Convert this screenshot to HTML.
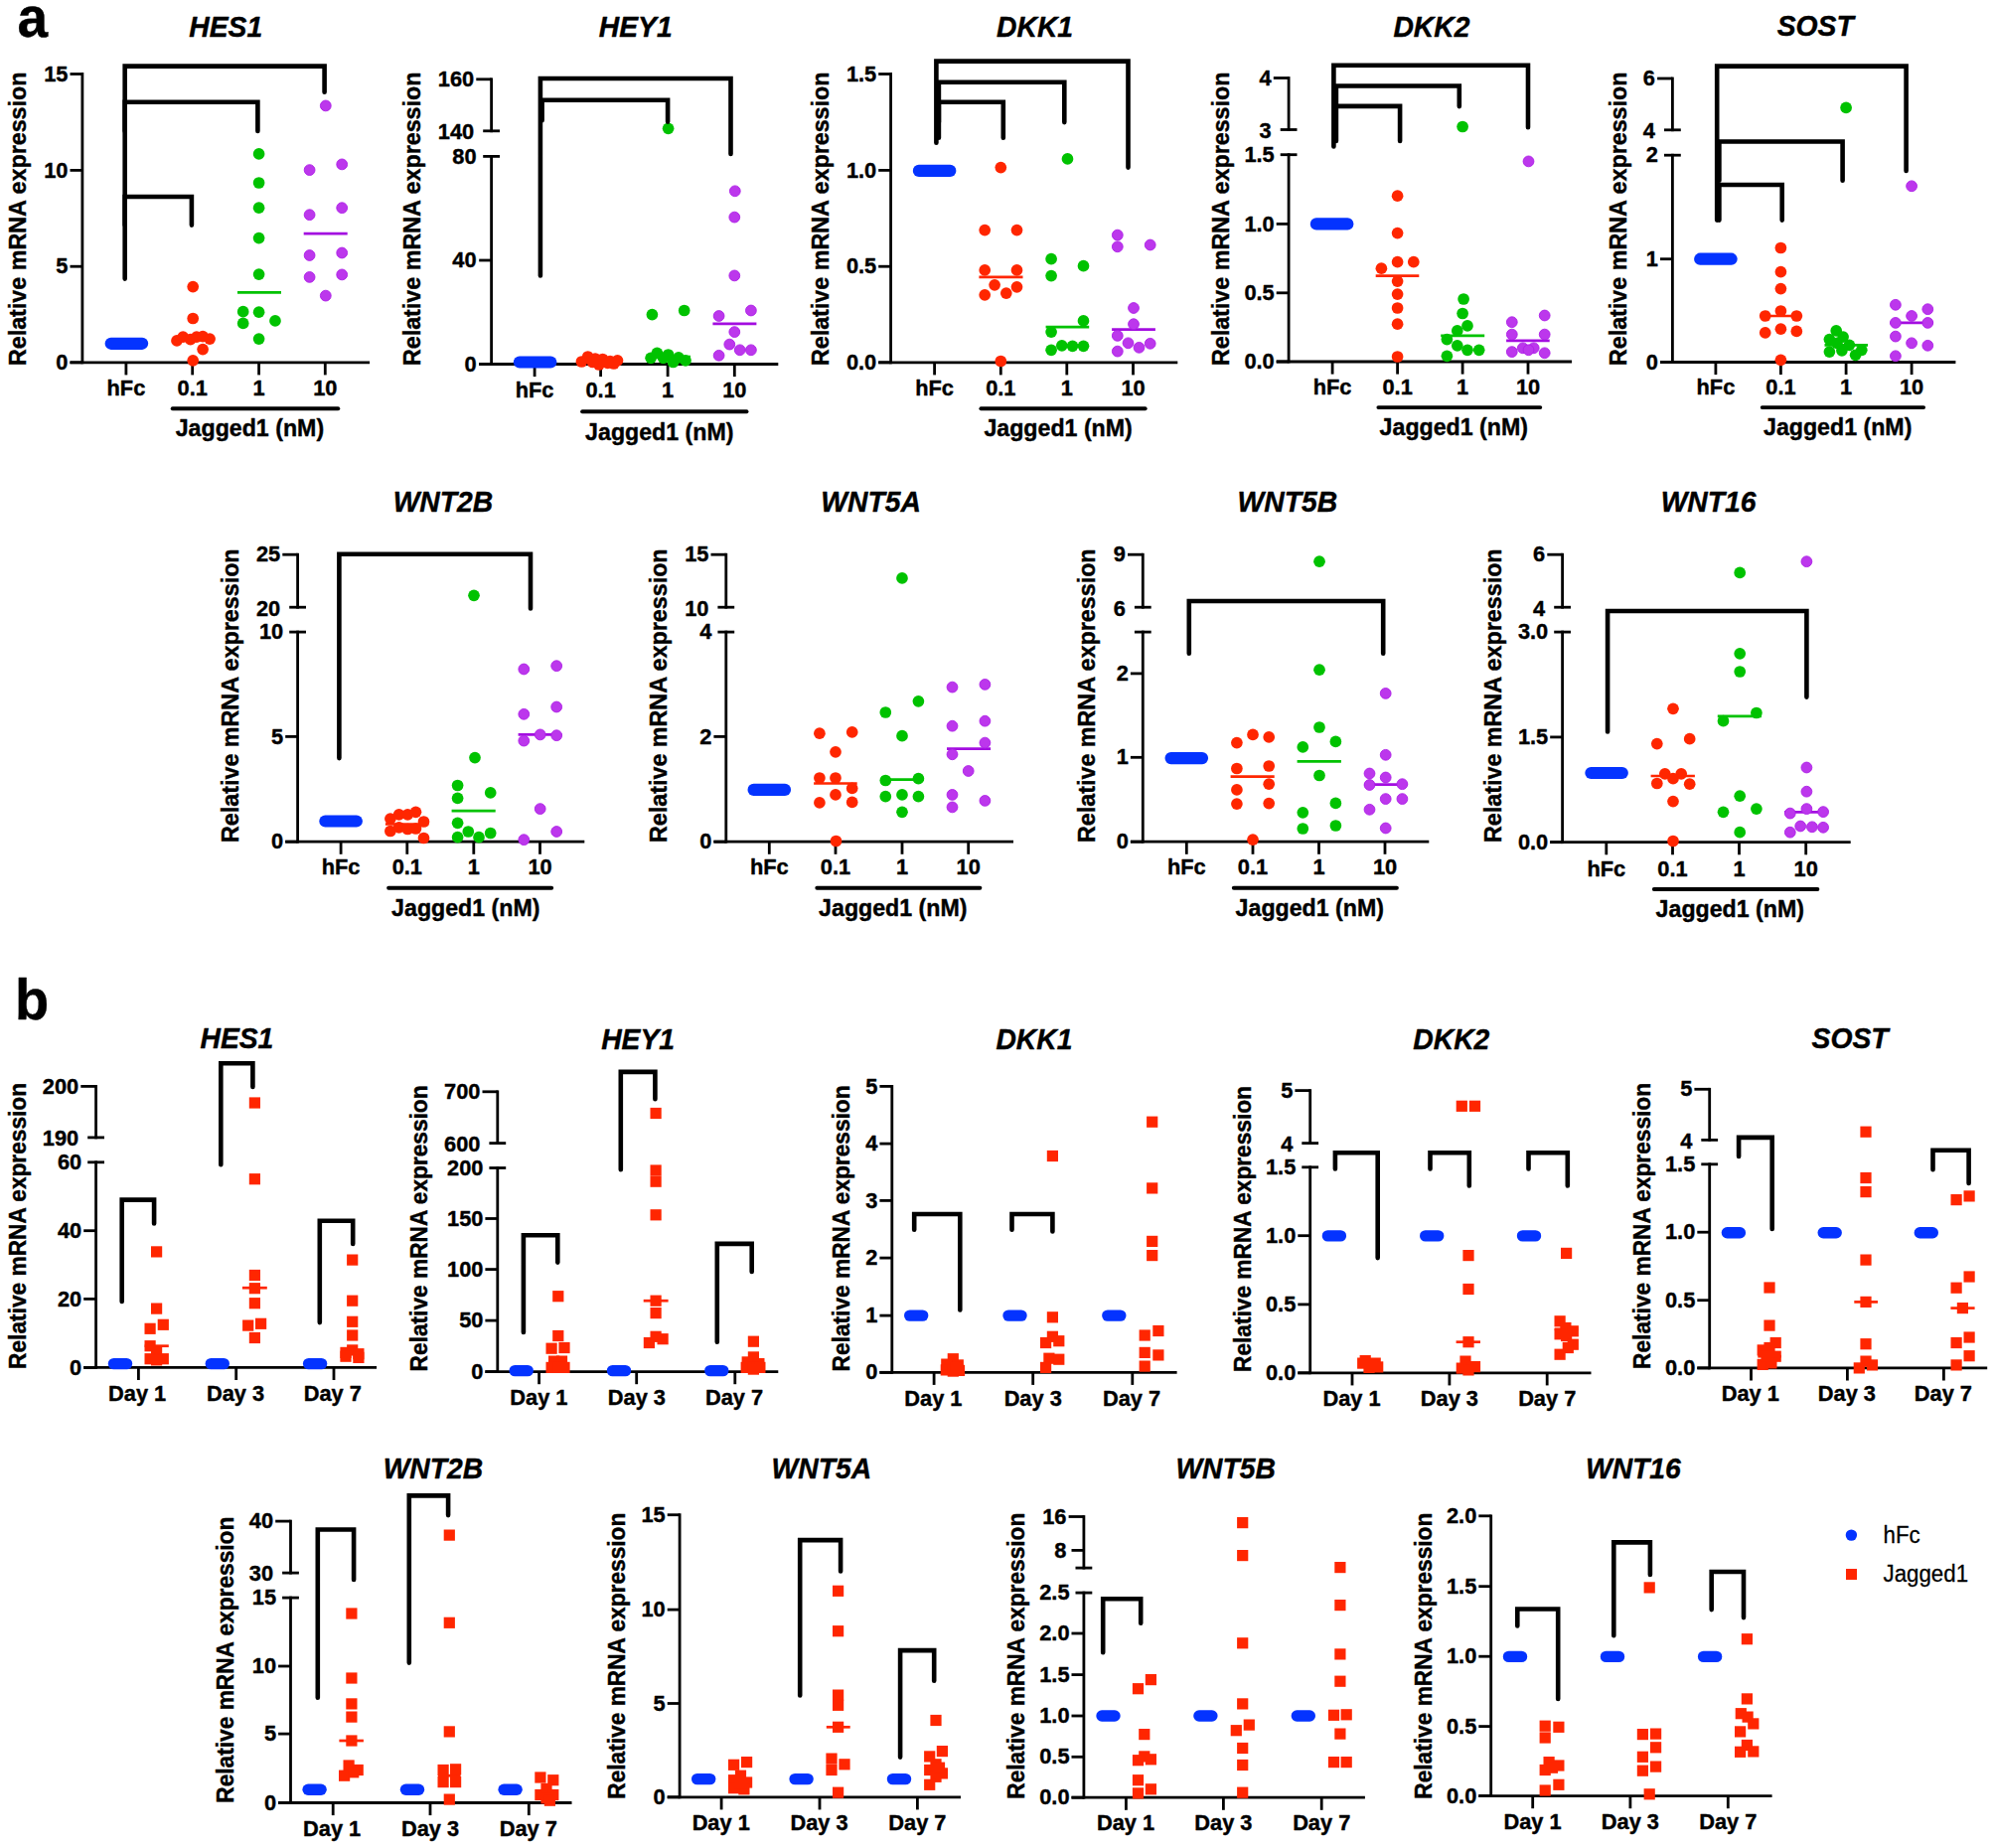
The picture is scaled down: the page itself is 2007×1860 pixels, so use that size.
<!DOCTYPE html>
<html><head><meta charset="utf-8"><title>Figure</title>
<style>html,body{margin:0;padding:0;background:#fff}svg{display:block}
text{font-family:"Liberation Sans",sans-serif;fill:#000;stroke:#000;stroke-width:0.4px;stroke-linejoin:round}text.r{stroke-width:0.25px}</style></head>
<body><svg width="2007" height="1860" viewBox="0 0 2007 1860">
<rect width="2007" height="1860" fill="#fff"/>
<text transform="translate(227.2,37.3) scale(1,1.035)" font-size="28.3" text-anchor="middle" font-weight="bold" font-style="italic">HES1</text>
<line x1="82.9" y1="73.1" x2="82.9" y2="366.2" stroke="#000" stroke-width="2.8" stroke-linecap="butt"/>
<line x1="70.5" y1="74.5" x2="82.9" y2="74.5" stroke="#000" stroke-width="2.8" stroke-linecap="butt"/>
<text transform="translate(68.5,81.6) scale(1,1.035)" font-size="21.8" text-anchor="end" font-weight="bold" font-style="normal">15</text>
<line x1="70.5" y1="171.4" x2="82.9" y2="171.4" stroke="#000" stroke-width="2.8" stroke-linecap="butt"/>
<text transform="translate(68.5,178.5) scale(1,1.035)" font-size="21.8" text-anchor="end" font-weight="bold" font-style="normal">10</text>
<line x1="70.5" y1="268.2" x2="82.9" y2="268.2" stroke="#000" stroke-width="2.8" stroke-linecap="butt"/>
<text transform="translate(68.5,275.3) scale(1,1.035)" font-size="21.8" text-anchor="end" font-weight="bold" font-style="normal">5</text>
<line x1="70.5" y1="364.8" x2="82.9" y2="364.8" stroke="#000" stroke-width="2.8" stroke-linecap="butt"/>
<text transform="translate(68.5,371.9) scale(1,1.035)" font-size="21.8" text-anchor="end" font-weight="bold" font-style="normal">0</text>
<line x1="70.5" y1="364.8" x2="372.1" y2="364.8" stroke="#000" stroke-width="2.8" stroke-linecap="butt"/>
<line x1="126.9" y1="364.8" x2="126.9" y2="377.4" stroke="#000" stroke-width="2.8" stroke-linecap="butt"/>
<line x1="193.7" y1="364.8" x2="193.7" y2="377.4" stroke="#000" stroke-width="2.8" stroke-linecap="butt"/>
<line x1="260.6" y1="364.8" x2="260.6" y2="377.4" stroke="#000" stroke-width="2.8" stroke-linecap="butt"/>
<line x1="327.3" y1="364.8" x2="327.3" y2="377.4" stroke="#000" stroke-width="2.8" stroke-linecap="butt"/>
<text transform="translate(126.9,397.9) scale(1,1.035)" font-size="21.8" text-anchor="middle" font-weight="bold" font-style="normal">hFc</text>
<text transform="translate(193.7,397.9) scale(1,1.035)" font-size="21.8" text-anchor="middle" font-weight="bold" font-style="normal">0.1</text>
<text transform="translate(260.6,397.9) scale(1,1.035)" font-size="21.8" text-anchor="middle" font-weight="bold" font-style="normal">1</text>
<text transform="translate(327.3,397.9) scale(1,1.035)" font-size="21.8" text-anchor="middle" font-weight="bold" font-style="normal">10</text>
<line x1="173.7" y1="411.3" x2="340.3" y2="411.3" stroke="#000" stroke-width="3.9" stroke-linecap="round"/>
<text transform="translate(251.4,438.9) scale(1,1.035)" font-size="23.2" text-anchor="middle" font-weight="bold" font-style="normal">Jagged1 (nM)</text>
<text transform="translate(26.1,220.3) rotate(-90) scale(1,1.035)" font-size="23.3" text-anchor="middle" font-weight="bold">Relative mRNA expression</text>
<line x1="239" y1="294.3" x2="283" y2="294.3" stroke="#00c200" stroke-width="2.7" stroke-linecap="butt"/>
<line x1="305.7" y1="235.1" x2="349.7" y2="235.1" stroke="#a30de0" stroke-width="2.7" stroke-linecap="butt"/>
<line x1="111.7" y1="345.8" x2="143.1" y2="345.8" stroke="#0433ff" stroke-width="12.2" stroke-linecap="round"/>
<circle cx="194.2" cy="288.6" r="5.85" fill="#ff2600"/>
<circle cx="194.2" cy="320.5" r="5.85" fill="#ff2600"/>
<circle cx="178" cy="342.9" r="5.85" fill="#ff2600"/>
<circle cx="184.2" cy="339.1" r="5.85" fill="#ff2600"/>
<circle cx="191.7" cy="341.6" r="5.85" fill="#ff2600"/>
<circle cx="197.9" cy="339.1" r="5.85" fill="#ff2600"/>
<circle cx="204.1" cy="338.6" r="5.85" fill="#ff2600"/>
<circle cx="211.1" cy="341.1" r="5.85" fill="#ff2600"/>
<circle cx="204.1" cy="351.6" r="5.85" fill="#ff2600"/>
<circle cx="194.2" cy="362.8" r="5.85" fill="#ff2600"/>
<circle cx="260.6" cy="154.9" r="5.85" fill="#00c200"/>
<circle cx="260.6" cy="184" r="5.85" fill="#00c200"/>
<circle cx="260.6" cy="209.2" r="5.85" fill="#00c200"/>
<circle cx="260.6" cy="239.6" r="5.85" fill="#00c200"/>
<circle cx="260.6" cy="276.1" r="5.85" fill="#00c200"/>
<circle cx="244.7" cy="313.7" r="5.85" fill="#00c200"/>
<circle cx="260.6" cy="314.2" r="5.85" fill="#00c200"/>
<circle cx="277" cy="322.9" r="5.85" fill="#00c200"/>
<circle cx="244.7" cy="325.4" r="5.85" fill="#00c200"/>
<circle cx="260.6" cy="341.1" r="5.85" fill="#00c200"/>
<circle cx="327.8" cy="106.4" r="5.4" fill="#bc37ec" stroke="#ad1fe6" stroke-width="0.9"/>
<circle cx="344.2" cy="165.4" r="5.4" fill="#bc37ec" stroke="#ad1fe6" stroke-width="0.9"/>
<circle cx="311.6" cy="171.1" r="5.4" fill="#bc37ec" stroke="#ad1fe6" stroke-width="0.9"/>
<circle cx="344.2" cy="209.2" r="5.4" fill="#bc37ec" stroke="#ad1fe6" stroke-width="0.9"/>
<circle cx="311.6" cy="216.2" r="5.4" fill="#bc37ec" stroke="#ad1fe6" stroke-width="0.9"/>
<circle cx="344.2" cy="254.5" r="5.4" fill="#bc37ec" stroke="#ad1fe6" stroke-width="0.9"/>
<circle cx="311.6" cy="257" r="5.4" fill="#bc37ec" stroke="#ad1fe6" stroke-width="0.9"/>
<circle cx="344.2" cy="276.4" r="5.4" fill="#bc37ec" stroke="#ad1fe6" stroke-width="0.9"/>
<circle cx="311.6" cy="278.9" r="5.4" fill="#bc37ec" stroke="#ad1fe6" stroke-width="0.9"/>
<circle cx="327.8" cy="297.6" r="5.4" fill="#bc37ec" stroke="#ad1fe6" stroke-width="0.9"/>
<path d="M125.7 280.6 L125.7 66.6 L326.6 66.6 L326.6 92.7" fill="none" stroke="#000" stroke-width="4.6" stroke-linejoin="miter" stroke-linecap="round"/>
<path d="M125.7 132 L125.7 102.7 L259.4 102.7 L259.4 132" fill="none" stroke="#000" stroke-width="4.6" stroke-linejoin="miter" stroke-linecap="round"/>
<path d="M125.7 226.6 L125.7 198 L192.9 198 L192.9 226.6" fill="none" stroke="#000" stroke-width="4.6" stroke-linejoin="miter" stroke-linecap="round"/>
<text transform="translate(639.7,37.3) scale(1,1.035)" font-size="28.3" text-anchor="middle" font-weight="bold" font-style="italic">HEY1</text>
<line x1="494.6" y1="78.4" x2="494.6" y2="133.2" stroke="#000" stroke-width="2.8" stroke-linecap="butt"/>
<line x1="494.6" y1="156" x2="494.6" y2="367.9" stroke="#000" stroke-width="2.8" stroke-linecap="butt"/>
<line x1="479.3" y1="79.8" x2="494.6" y2="79.8" stroke="#000" stroke-width="2.8" stroke-linecap="butt"/>
<text transform="translate(477.2,86.9) scale(1,1.035)" font-size="21.8" text-anchor="end" font-weight="bold" font-style="normal">160</text>
<line x1="486.2" y1="131.8" x2="503" y2="131.8" stroke="#000" stroke-width="2.8" stroke-linecap="butt"/>
<text transform="translate(477.2,140.1) scale(1,1.035)" font-size="21.8" text-anchor="end" font-weight="bold" font-style="normal">140</text>
<line x1="486.2" y1="157.4" x2="503" y2="157.4" stroke="#000" stroke-width="2.8" stroke-linecap="butt"/>
<text transform="translate(479.6,164.5) scale(1,1.035)" font-size="21.8" text-anchor="end" font-weight="bold" font-style="normal">80</text>
<line x1="482.2" y1="262" x2="494.6" y2="262" stroke="#000" stroke-width="2.8" stroke-linecap="butt"/>
<text transform="translate(479.6,269.1) scale(1,1.035)" font-size="21.8" text-anchor="end" font-weight="bold" font-style="normal">40</text>
<line x1="482.2" y1="366.5" x2="494.6" y2="366.5" stroke="#000" stroke-width="2.8" stroke-linecap="butt"/>
<text transform="translate(479.6,373.6) scale(1,1.035)" font-size="21.8" text-anchor="end" font-weight="bold" font-style="normal">0</text>
<line x1="482.2" y1="366.5" x2="783.3" y2="366.5" stroke="#000" stroke-width="2.8" stroke-linecap="butt"/>
<line x1="538.1" y1="366.5" x2="538.1" y2="379.1" stroke="#000" stroke-width="2.8" stroke-linecap="butt"/>
<line x1="604.6" y1="366.5" x2="604.6" y2="379.1" stroke="#000" stroke-width="2.8" stroke-linecap="butt"/>
<line x1="672.1" y1="366.5" x2="672.1" y2="379.1" stroke="#000" stroke-width="2.8" stroke-linecap="butt"/>
<line x1="739.3" y1="366.5" x2="739.3" y2="379.1" stroke="#000" stroke-width="2.8" stroke-linecap="butt"/>
<text transform="translate(538.1,400.4) scale(1,1.035)" font-size="21.8" text-anchor="middle" font-weight="bold" font-style="normal">hFc</text>
<text transform="translate(604.6,400.4) scale(1,1.035)" font-size="21.8" text-anchor="middle" font-weight="bold" font-style="normal">0.1</text>
<text transform="translate(672.1,400.4) scale(1,1.035)" font-size="21.8" text-anchor="middle" font-weight="bold" font-style="normal">1</text>
<text transform="translate(739.3,400.4) scale(1,1.035)" font-size="21.8" text-anchor="middle" font-weight="bold" font-style="normal">10</text>
<line x1="586.1" y1="414.3" x2="751.5" y2="414.3" stroke="#000" stroke-width="3.9" stroke-linecap="round"/>
<text transform="translate(663.8,442.7) scale(1,1.035)" font-size="23.2" text-anchor="middle" font-weight="bold" font-style="normal">Jagged1 (nM)</text>
<text transform="translate(422.8,220.3) rotate(-90) scale(1,1.035)" font-size="23.3" text-anchor="middle" font-weight="bold">Relative mRNA expression</text>
<line x1="650.2" y1="359" x2="695" y2="359" stroke="#00c200" stroke-width="2.7" stroke-linecap="butt"/>
<line x1="717.4" y1="325.9" x2="761.4" y2="325.9" stroke="#a30de0" stroke-width="2.7" stroke-linecap="butt"/>
<line x1="522.9" y1="364.5" x2="554.3" y2="364.5" stroke="#0433ff" stroke-width="12.2" stroke-linecap="round"/>
<circle cx="591.7" cy="359" r="5.85" fill="#ff2600"/>
<circle cx="585.4" cy="364" r="5.85" fill="#ff2600"/>
<circle cx="599.1" cy="361" r="5.85" fill="#ff2600"/>
<circle cx="606.6" cy="361.5" r="5.85" fill="#ff2600"/>
<circle cx="614.1" cy="363.5" r="5.85" fill="#ff2600"/>
<circle cx="621.5" cy="362.8" r="5.85" fill="#ff2600"/>
<circle cx="602.9" cy="367" r="5.85" fill="#ff2600"/>
<circle cx="617.8" cy="366" r="5.85" fill="#ff2600"/>
<circle cx="596.6" cy="364.5" r="5.85" fill="#ff2600"/>
<circle cx="611.6" cy="365.3" r="5.85" fill="#ff2600"/>
<circle cx="672.6" cy="129.3" r="5.85" fill="#00c200"/>
<circle cx="656.4" cy="316.7" r="5.85" fill="#00c200"/>
<circle cx="688.7" cy="312.5" r="5.85" fill="#00c200"/>
<circle cx="661.4" cy="355.3" r="5.85" fill="#00c200"/>
<circle cx="672.6" cy="357" r="5.85" fill="#00c200"/>
<circle cx="683" cy="359.8" r="5.85" fill="#00c200"/>
<circle cx="655.1" cy="360.3" r="5.85" fill="#00c200"/>
<circle cx="690" cy="362.8" r="5.85" fill="#00c200"/>
<circle cx="667.6" cy="360.3" r="5.85" fill="#00c200"/>
<circle cx="677.5" cy="364.5" r="5.85" fill="#00c200"/>
<circle cx="739.8" cy="192.3" r="5.4" fill="#bc37ec" stroke="#ad1fe6" stroke-width="0.9"/>
<circle cx="739.3" cy="218.6" r="5.4" fill="#bc37ec" stroke="#ad1fe6" stroke-width="0.9"/>
<circle cx="739.3" cy="277.4" r="5.4" fill="#bc37ec" stroke="#ad1fe6" stroke-width="0.9"/>
<circle cx="755.9" cy="312.5" r="5.4" fill="#bc37ec" stroke="#ad1fe6" stroke-width="0.9"/>
<circle cx="723.6" cy="318" r="5.4" fill="#bc37ec" stroke="#ad1fe6" stroke-width="0.9"/>
<circle cx="739.3" cy="334.1" r="5.4" fill="#bc37ec" stroke="#ad1fe6" stroke-width="0.9"/>
<circle cx="734.3" cy="346.6" r="5.4" fill="#bc37ec" stroke="#ad1fe6" stroke-width="0.9"/>
<circle cx="744.7" cy="352.3" r="5.4" fill="#bc37ec" stroke="#ad1fe6" stroke-width="0.9"/>
<circle cx="755.9" cy="352.3" r="5.4" fill="#bc37ec" stroke="#ad1fe6" stroke-width="0.9"/>
<circle cx="723.6" cy="357.8" r="5.4" fill="#bc37ec" stroke="#ad1fe6" stroke-width="0.9"/>
<path d="M543.9 277.4 L543.9 79 L735.5 79 L735.5 154.9" fill="none" stroke="#000" stroke-width="4.6" stroke-linejoin="miter" stroke-linecap="round"/>
<path d="M545.6 121.3 L545.6 100.7 L672.1 100.7 L672.1 122.6" fill="none" stroke="#000" stroke-width="4.6" stroke-linejoin="miter" stroke-linecap="round"/>
<text transform="translate(1041.6,37.3) scale(1,1.035)" font-size="28.3" text-anchor="middle" font-weight="bold" font-style="italic">DKK1</text>
<line x1="896.6" y1="73.1" x2="896.6" y2="366.2" stroke="#000" stroke-width="2.8" stroke-linecap="butt"/>
<line x1="884.2" y1="74.5" x2="896.6" y2="74.5" stroke="#000" stroke-width="2.8" stroke-linecap="butt"/>
<text transform="translate(882.2,81.6) scale(1,1.035)" font-size="21.8" text-anchor="end" font-weight="bold" font-style="normal">1.5</text>
<line x1="884.2" y1="171.4" x2="896.6" y2="171.4" stroke="#000" stroke-width="2.8" stroke-linecap="butt"/>
<text transform="translate(882.2,178.5) scale(1,1.035)" font-size="21.8" text-anchor="end" font-weight="bold" font-style="normal">1.0</text>
<line x1="884.2" y1="268.2" x2="896.6" y2="268.2" stroke="#000" stroke-width="2.8" stroke-linecap="butt"/>
<text transform="translate(882.2,275.3) scale(1,1.035)" font-size="21.8" text-anchor="end" font-weight="bold" font-style="normal">0.5</text>
<line x1="884.2" y1="364.8" x2="896.6" y2="364.8" stroke="#000" stroke-width="2.8" stroke-linecap="butt"/>
<text transform="translate(882.2,371.9) scale(1,1.035)" font-size="21.8" text-anchor="end" font-weight="bold" font-style="normal">0.0</text>
<line x1="884.2" y1="364.8" x2="1185.3" y2="364.8" stroke="#000" stroke-width="2.8" stroke-linecap="butt"/>
<line x1="940.6" y1="364.8" x2="940.6" y2="377.4" stroke="#000" stroke-width="2.8" stroke-linecap="butt"/>
<line x1="1007.3" y1="364.8" x2="1007.3" y2="377.4" stroke="#000" stroke-width="2.8" stroke-linecap="butt"/>
<line x1="1073.8" y1="364.8" x2="1073.8" y2="377.4" stroke="#000" stroke-width="2.8" stroke-linecap="butt"/>
<line x1="1140.5" y1="364.8" x2="1140.5" y2="377.4" stroke="#000" stroke-width="2.8" stroke-linecap="butt"/>
<text transform="translate(940.6,397.9) scale(1,1.035)" font-size="21.8" text-anchor="middle" font-weight="bold" font-style="normal">hFc</text>
<text transform="translate(1007.3,397.9) scale(1,1.035)" font-size="21.8" text-anchor="middle" font-weight="bold" font-style="normal">0.1</text>
<text transform="translate(1073.8,397.9) scale(1,1.035)" font-size="21.8" text-anchor="middle" font-weight="bold" font-style="normal">1</text>
<text transform="translate(1140.5,397.9) scale(1,1.035)" font-size="21.8" text-anchor="middle" font-weight="bold" font-style="normal">10</text>
<line x1="987.4" y1="411.3" x2="1152.7" y2="411.3" stroke="#000" stroke-width="3.9" stroke-linecap="round"/>
<text transform="translate(1065.1,438.9) scale(1,1.035)" font-size="23.2" text-anchor="middle" font-weight="bold" font-style="normal">Jagged1 (nM)</text>
<text transform="translate(833.6,220.3) rotate(-90) scale(1,1.035)" font-size="23.3" text-anchor="middle" font-weight="bold">Relative mRNA expression</text>
<line x1="985.4" y1="278.9" x2="1029.5" y2="278.9" stroke="#ff2600" stroke-width="2.7" stroke-linecap="butt"/>
<line x1="1052.6" y1="329.2" x2="1096.2" y2="329.2" stroke="#00c200" stroke-width="2.7" stroke-linecap="butt"/>
<line x1="1119.1" y1="331.7" x2="1162.9" y2="331.7" stroke="#a30de0" stroke-width="2.7" stroke-linecap="butt"/>
<line x1="924.9" y1="171.9" x2="956.3" y2="171.9" stroke="#0433ff" stroke-width="12.2" stroke-linecap="round"/>
<circle cx="1007.3" cy="168.6" r="5.85" fill="#ff2600"/>
<circle cx="991.2" cy="231.6" r="5.85" fill="#ff2600"/>
<circle cx="1023.5" cy="231.6" r="5.85" fill="#ff2600"/>
<circle cx="991.2" cy="271.9" r="5.85" fill="#ff2600"/>
<circle cx="1023.5" cy="271.9" r="5.85" fill="#ff2600"/>
<circle cx="1001.1" cy="286.8" r="5.85" fill="#ff2600"/>
<circle cx="1023.5" cy="288.8" r="5.85" fill="#ff2600"/>
<circle cx="991.2" cy="296.8" r="5.85" fill="#ff2600"/>
<circle cx="1012.8" cy="295.1" r="5.85" fill="#ff2600"/>
<circle cx="1007.3" cy="363.5" r="5.85" fill="#ff2600"/>
<circle cx="1074.5" cy="159.9" r="5.85" fill="#00c200"/>
<circle cx="1058.1" cy="260.7" r="5.85" fill="#00c200"/>
<circle cx="1090.5" cy="267.7" r="5.85" fill="#00c200"/>
<circle cx="1058.1" cy="277.6" r="5.85" fill="#00c200"/>
<circle cx="1090.5" cy="322.9" r="5.85" fill="#00c200"/>
<circle cx="1058.1" cy="334.1" r="5.85" fill="#00c200"/>
<circle cx="1058.1" cy="352.3" r="5.85" fill="#00c200"/>
<circle cx="1068.8" cy="347.8" r="5.85" fill="#00c200"/>
<circle cx="1079.5" cy="348.3" r="5.85" fill="#00c200"/>
<circle cx="1090.5" cy="348.3" r="5.85" fill="#00c200"/>
<circle cx="1124.8" cy="236.6" r="5.4" fill="#bc37ec" stroke="#ad1fe6" stroke-width="0.9"/>
<circle cx="1124.8" cy="248.3" r="5.4" fill="#bc37ec" stroke="#ad1fe6" stroke-width="0.9"/>
<circle cx="1157.7" cy="246.5" r="5.4" fill="#bc37ec" stroke="#ad1fe6" stroke-width="0.9"/>
<circle cx="1141" cy="310" r="5.4" fill="#bc37ec" stroke="#ad1fe6" stroke-width="0.9"/>
<circle cx="1141" cy="326.2" r="5.4" fill="#bc37ec" stroke="#ad1fe6" stroke-width="0.9"/>
<circle cx="1124.8" cy="337.9" r="5.4" fill="#bc37ec" stroke="#ad1fe6" stroke-width="0.9"/>
<circle cx="1135.5" cy="345.3" r="5.4" fill="#bc37ec" stroke="#ad1fe6" stroke-width="0.9"/>
<circle cx="1157.7" cy="345.8" r="5.4" fill="#bc37ec" stroke="#ad1fe6" stroke-width="0.9"/>
<circle cx="1146.5" cy="349.8" r="5.4" fill="#bc37ec" stroke="#ad1fe6" stroke-width="0.9"/>
<circle cx="1124.8" cy="353.6" r="5.4" fill="#bc37ec" stroke="#ad1fe6" stroke-width="0.9"/>
<path d="M942.4 143.7 L942.4 61.6 L1135.5 61.6 L1135.5 168.6" fill="none" stroke="#000" stroke-width="4.6" stroke-linejoin="miter" stroke-linecap="round"/>
<path d="M944.9 123.1 L944.9 82.7 L1071.3 82.7 L1071.3 123.1" fill="none" stroke="#000" stroke-width="4.6" stroke-linejoin="miter" stroke-linecap="round"/>
<path d="M944.9 138.7 L944.9 102.7 L1009.8 102.7 L1009.8 138.7" fill="none" stroke="#000" stroke-width="4.6" stroke-linejoin="miter" stroke-linecap="round"/>
<text transform="translate(1440.9,37.3) scale(1,1.035)" font-size="28.3" text-anchor="middle" font-weight="bold" font-style="italic">DKK2</text>
<line x1="1297.1" y1="77.1" x2="1297.1" y2="131.9" stroke="#000" stroke-width="2.8" stroke-linecap="butt"/>
<line x1="1297.1" y1="154.3" x2="1297.1" y2="365.4" stroke="#000" stroke-width="2.8" stroke-linecap="butt"/>
<line x1="1281.8" y1="78.5" x2="1297.1" y2="78.5" stroke="#000" stroke-width="2.8" stroke-linecap="butt"/>
<text transform="translate(1279.7,85.6) scale(1,1.035)" font-size="21.8" text-anchor="end" font-weight="bold" font-style="normal">4</text>
<line x1="1288.7" y1="130.5" x2="1305.5" y2="130.5" stroke="#000" stroke-width="2.8" stroke-linecap="butt"/>
<text transform="translate(1279.7,138.8) scale(1,1.035)" font-size="21.8" text-anchor="end" font-weight="bold" font-style="normal">3</text>
<line x1="1288.7" y1="155.7" x2="1305.5" y2="155.7" stroke="#000" stroke-width="2.8" stroke-linecap="butt"/>
<text transform="translate(1282.7,162.8) scale(1,1.035)" font-size="21.8" text-anchor="end" font-weight="bold" font-style="normal">1.5</text>
<line x1="1284.7" y1="225.4" x2="1297.1" y2="225.4" stroke="#000" stroke-width="2.8" stroke-linecap="butt"/>
<text transform="translate(1282.7,232.5) scale(1,1.035)" font-size="21.8" text-anchor="end" font-weight="bold" font-style="normal">1.0</text>
<line x1="1284.7" y1="294.8" x2="1297.1" y2="294.8" stroke="#000" stroke-width="2.8" stroke-linecap="butt"/>
<text transform="translate(1282.7,301.9) scale(1,1.035)" font-size="21.8" text-anchor="end" font-weight="bold" font-style="normal">0.5</text>
<line x1="1284.7" y1="364" x2="1297.1" y2="364" stroke="#000" stroke-width="2.8" stroke-linecap="butt"/>
<text transform="translate(1282.7,371.1) scale(1,1.035)" font-size="21.8" text-anchor="end" font-weight="bold" font-style="normal">0.0</text>
<line x1="1284.7" y1="364" x2="1582.1" y2="364" stroke="#000" stroke-width="2.8" stroke-linecap="butt"/>
<line x1="1341.1" y1="364" x2="1341.1" y2="376.6" stroke="#000" stroke-width="2.8" stroke-linecap="butt"/>
<line x1="1406.6" y1="364" x2="1406.6" y2="376.6" stroke="#000" stroke-width="2.8" stroke-linecap="butt"/>
<line x1="1472.1" y1="364" x2="1472.1" y2="376.6" stroke="#000" stroke-width="2.8" stroke-linecap="butt"/>
<line x1="1538" y1="364" x2="1538" y2="376.6" stroke="#000" stroke-width="2.8" stroke-linecap="butt"/>
<text transform="translate(1341.1,397.2) scale(1,1.035)" font-size="21.8" text-anchor="middle" font-weight="bold" font-style="normal">hFc</text>
<text transform="translate(1406.6,397.2) scale(1,1.035)" font-size="21.8" text-anchor="middle" font-weight="bold" font-style="normal">0.1</text>
<text transform="translate(1472.1,397.2) scale(1,1.035)" font-size="21.8" text-anchor="middle" font-weight="bold" font-style="normal">1</text>
<text transform="translate(1538,397.2) scale(1,1.035)" font-size="21.8" text-anchor="middle" font-weight="bold" font-style="normal">10</text>
<line x1="1387.4" y1="410.1" x2="1550.3" y2="410.1" stroke="#000" stroke-width="3.9" stroke-linecap="round"/>
<text transform="translate(1463.3,438.4) scale(1,1.035)" font-size="23.2" text-anchor="middle" font-weight="bold" font-style="normal">Jagged1 (nM)</text>
<text transform="translate(1236.5,220.3) rotate(-90) scale(1,1.035)" font-size="23.3" text-anchor="middle" font-weight="bold">Relative mRNA expression</text>
<line x1="1384.7" y1="277.6" x2="1428.3" y2="277.6" stroke="#ff2600" stroke-width="2.7" stroke-linecap="butt"/>
<line x1="1450.2" y1="337.9" x2="1494.2" y2="337.9" stroke="#00c200" stroke-width="2.7" stroke-linecap="butt"/>
<line x1="1516.1" y1="342.9" x2="1559.7" y2="342.9" stroke="#a30de0" stroke-width="2.7" stroke-linecap="butt"/>
<line x1="1324.9" y1="225.4" x2="1356.3" y2="225.4" stroke="#0433ff" stroke-width="12.2" stroke-linecap="round"/>
<circle cx="1406.6" cy="197.2" r="5.85" fill="#ff2600"/>
<circle cx="1406.6" cy="234.6" r="5.85" fill="#ff2600"/>
<circle cx="1406.6" cy="263.7" r="5.85" fill="#ff2600"/>
<circle cx="1422.8" cy="263.7" r="5.85" fill="#ff2600"/>
<circle cx="1390.4" cy="270.2" r="5.85" fill="#ff2600"/>
<circle cx="1406.6" cy="283.1" r="5.85" fill="#ff2600"/>
<circle cx="1406.6" cy="296.1" r="5.85" fill="#ff2600"/>
<circle cx="1406.6" cy="310" r="5.85" fill="#ff2600"/>
<circle cx="1406.6" cy="326.2" r="5.85" fill="#ff2600"/>
<circle cx="1406.6" cy="359" r="5.85" fill="#ff2600"/>
<circle cx="1472.1" cy="127.5" r="5.85" fill="#00c200"/>
<circle cx="1473.1" cy="301" r="5.85" fill="#00c200"/>
<circle cx="1472.1" cy="315.5" r="5.85" fill="#00c200"/>
<circle cx="1477" cy="327.9" r="5.85" fill="#00c200"/>
<circle cx="1466.8" cy="332.9" r="5.85" fill="#00c200"/>
<circle cx="1456.4" cy="341.6" r="5.85" fill="#00c200"/>
<circle cx="1466.8" cy="347.8" r="5.85" fill="#00c200"/>
<circle cx="1477" cy="352.3" r="5.85" fill="#00c200"/>
<circle cx="1488.7" cy="352.3" r="5.85" fill="#00c200"/>
<circle cx="1456.4" cy="358.3" r="5.85" fill="#00c200"/>
<circle cx="1538.5" cy="162.4" r="5.4" fill="#bc37ec" stroke="#ad1fe6" stroke-width="0.9"/>
<circle cx="1554.7" cy="317.5" r="5.4" fill="#bc37ec" stroke="#ad1fe6" stroke-width="0.9"/>
<circle cx="1521.8" cy="324.2" r="5.4" fill="#bc37ec" stroke="#ad1fe6" stroke-width="0.9"/>
<circle cx="1521.8" cy="336.6" r="5.4" fill="#bc37ec" stroke="#ad1fe6" stroke-width="0.9"/>
<circle cx="1554.7" cy="336.6" r="5.4" fill="#bc37ec" stroke="#ad1fe6" stroke-width="0.9"/>
<circle cx="1532.8" cy="350.3" r="5.4" fill="#bc37ec" stroke="#ad1fe6" stroke-width="0.9"/>
<circle cx="1543.7" cy="350.3" r="5.4" fill="#bc37ec" stroke="#ad1fe6" stroke-width="0.9"/>
<circle cx="1521.8" cy="354.1" r="5.4" fill="#bc37ec" stroke="#ad1fe6" stroke-width="0.9"/>
<circle cx="1554.7" cy="355.3" r="5.4" fill="#bc37ec" stroke="#ad1fe6" stroke-width="0.9"/>
<circle cx="1538.5" cy="352.3" r="5.4" fill="#bc37ec" stroke="#ad1fe6" stroke-width="0.9"/>
<path d="M1342.4 147.5 L1342.4 65.8 L1538 65.8 L1538 128.3" fill="none" stroke="#000" stroke-width="4.6" stroke-linejoin="miter" stroke-linecap="round"/>
<path d="M1344.9 107.1 L1344.9 86.5 L1468.8 86.5 L1468.8 107.1" fill="none" stroke="#000" stroke-width="4.6" stroke-linejoin="miter" stroke-linecap="round"/>
<path d="M1344.9 142 L1344.9 106.9 L1409.1 106.9 L1409.1 142" fill="none" stroke="#000" stroke-width="4.6" stroke-linejoin="miter" stroke-linecap="round"/>
<text transform="translate(1827.2,36.1) scale(1,1.035)" font-size="28.3" text-anchor="middle" font-weight="bold" font-style="italic">SOST</text>
<line x1="1683.4" y1="77.6" x2="1683.4" y2="132.2" stroke="#000" stroke-width="2.8" stroke-linecap="butt"/>
<line x1="1683.4" y1="154.8" x2="1683.4" y2="365.9" stroke="#000" stroke-width="2.8" stroke-linecap="butt"/>
<line x1="1668.1" y1="79" x2="1683.4" y2="79" stroke="#000" stroke-width="2.8" stroke-linecap="butt"/>
<text transform="translate(1666,86.1) scale(1,1.035)" font-size="21.8" text-anchor="end" font-weight="bold" font-style="normal">6</text>
<line x1="1675" y1="130.8" x2="1691.8" y2="130.8" stroke="#000" stroke-width="2.8" stroke-linecap="butt"/>
<text transform="translate(1666,139.1) scale(1,1.035)" font-size="21.8" text-anchor="end" font-weight="bold" font-style="normal">4</text>
<line x1="1675" y1="156.2" x2="1691.8" y2="156.2" stroke="#000" stroke-width="2.8" stroke-linecap="butt"/>
<text transform="translate(1669,163.3) scale(1,1.035)" font-size="21.8" text-anchor="end" font-weight="bold" font-style="normal">2</text>
<line x1="1671" y1="260.7" x2="1683.4" y2="260.7" stroke="#000" stroke-width="2.8" stroke-linecap="butt"/>
<text transform="translate(1669,267.8) scale(1,1.035)" font-size="21.8" text-anchor="end" font-weight="bold" font-style="normal">1</text>
<line x1="1671" y1="364.5" x2="1683.4" y2="364.5" stroke="#000" stroke-width="2.8" stroke-linecap="butt"/>
<text transform="translate(1669,371.6) scale(1,1.035)" font-size="21.8" text-anchor="end" font-weight="bold" font-style="normal">0</text>
<line x1="1671" y1="364.5" x2="1968.4" y2="364.5" stroke="#000" stroke-width="2.8" stroke-linecap="butt"/>
<line x1="1726.9" y1="364.5" x2="1726.9" y2="377.1" stroke="#000" stroke-width="2.8" stroke-linecap="butt"/>
<line x1="1792.4" y1="364.5" x2="1792.4" y2="377.1" stroke="#000" stroke-width="2.8" stroke-linecap="butt"/>
<line x1="1858.1" y1="364.5" x2="1858.1" y2="377.1" stroke="#000" stroke-width="2.8" stroke-linecap="butt"/>
<line x1="1924.1" y1="364.5" x2="1924.1" y2="377.1" stroke="#000" stroke-width="2.8" stroke-linecap="butt"/>
<text transform="translate(1726.9,397.2) scale(1,1.035)" font-size="21.8" text-anchor="middle" font-weight="bold" font-style="normal">hFc</text>
<text transform="translate(1792.4,397.2) scale(1,1.035)" font-size="21.8" text-anchor="middle" font-weight="bold" font-style="normal">0.1</text>
<text transform="translate(1858.1,397.2) scale(1,1.035)" font-size="21.8" text-anchor="middle" font-weight="bold" font-style="normal">1</text>
<text transform="translate(1924.1,397.2) scale(1,1.035)" font-size="21.8" text-anchor="middle" font-weight="bold" font-style="normal">10</text>
<line x1="1773.7" y1="410.1" x2="1936.1" y2="410.1" stroke="#000" stroke-width="3.9" stroke-linecap="round"/>
<text transform="translate(1849.7,438.4) scale(1,1.035)" font-size="23.2" text-anchor="middle" font-weight="bold" font-style="normal">Jagged1 (nM)</text>
<text transform="translate(1636.5,220.3) rotate(-90) scale(1,1.035)" font-size="23.3" text-anchor="middle" font-weight="bold">Relative mRNA expression</text>
<line x1="1771.3" y1="318" x2="1814.1" y2="318" stroke="#ff2600" stroke-width="2.7" stroke-linecap="butt"/>
<line x1="1836.5" y1="347.3" x2="1880" y2="347.3" stroke="#00c200" stroke-width="2.7" stroke-linecap="butt"/>
<line x1="1902.4" y1="324.9" x2="1946" y2="324.9" stroke="#a30de0" stroke-width="2.7" stroke-linecap="butt"/>
<line x1="1711.2" y1="260.7" x2="1742.6" y2="260.7" stroke="#0433ff" stroke-width="12.2" stroke-linecap="round"/>
<circle cx="1792.4" cy="249.5" r="5.85" fill="#ff2600"/>
<circle cx="1792.4" cy="273.7" r="5.85" fill="#ff2600"/>
<circle cx="1792.4" cy="290.6" r="5.85" fill="#ff2600"/>
<circle cx="1792.4" cy="313" r="5.85" fill="#ff2600"/>
<circle cx="1776.7" cy="318" r="5.85" fill="#ff2600"/>
<circle cx="1808.3" cy="318" r="5.85" fill="#ff2600"/>
<circle cx="1792.4" cy="331.2" r="5.85" fill="#ff2600"/>
<circle cx="1776.7" cy="334.9" r="5.85" fill="#ff2600"/>
<circle cx="1808.3" cy="333.4" r="5.85" fill="#ff2600"/>
<circle cx="1792.4" cy="362.3" r="5.85" fill="#ff2600"/>
<circle cx="1858.1" cy="108.4" r="5.85" fill="#00c200"/>
<circle cx="1848.2" cy="332.9" r="5.85" fill="#00c200"/>
<circle cx="1855.1" cy="339.1" r="5.85" fill="#00c200"/>
<circle cx="1841.4" cy="341.6" r="5.85" fill="#00c200"/>
<circle cx="1848.9" cy="345.3" r="5.85" fill="#00c200"/>
<circle cx="1861.4" cy="347.3" r="5.85" fill="#00c200"/>
<circle cx="1841.4" cy="354.1" r="5.85" fill="#00c200"/>
<circle cx="1853.9" cy="352.8" r="5.85" fill="#00c200"/>
<circle cx="1873.8" cy="352.3" r="5.85" fill="#00c200"/>
<circle cx="1867.6" cy="357.3" r="5.85" fill="#00c200"/>
<circle cx="1924.1" cy="187.3" r="5.4" fill="#bc37ec" stroke="#ad1fe6" stroke-width="0.9"/>
<circle cx="1907.9" cy="306.8" r="5.4" fill="#bc37ec" stroke="#ad1fe6" stroke-width="0.9"/>
<circle cx="1940.3" cy="311.2" r="5.4" fill="#bc37ec" stroke="#ad1fe6" stroke-width="0.9"/>
<circle cx="1924.1" cy="318" r="5.4" fill="#bc37ec" stroke="#ad1fe6" stroke-width="0.9"/>
<circle cx="1907.9" cy="324.9" r="5.4" fill="#bc37ec" stroke="#ad1fe6" stroke-width="0.9"/>
<circle cx="1940.3" cy="324.9" r="5.4" fill="#bc37ec" stroke="#ad1fe6" stroke-width="0.9"/>
<circle cx="1907.9" cy="338.6" r="5.4" fill="#bc37ec" stroke="#ad1fe6" stroke-width="0.9"/>
<circle cx="1924.1" cy="345.3" r="5.4" fill="#bc37ec" stroke="#ad1fe6" stroke-width="0.9"/>
<circle cx="1940.3" cy="347.8" r="5.4" fill="#bc37ec" stroke="#ad1fe6" stroke-width="0.9"/>
<circle cx="1907.9" cy="358.3" r="5.4" fill="#bc37ec" stroke="#ad1fe6" stroke-width="0.9"/>
<path d="M1728.2 221.6 L1728.2 66.6 L1918.6 66.6 L1918.6 171.9" fill="none" stroke="#000" stroke-width="4.6" stroke-linejoin="miter" stroke-linecap="round"/>
<path d="M1730.4 181.8 L1730.4 142.5 L1854.6 142.5 L1854.6 181.8" fill="none" stroke="#000" stroke-width="4.6" stroke-linejoin="miter" stroke-linecap="round"/>
<path d="M1730.4 221.6 L1730.4 186 L1793.7 186 L1793.7 221.6" fill="none" stroke="#000" stroke-width="4.6" stroke-linejoin="miter" stroke-linecap="round"/>
<text transform="translate(445.9,515.3) scale(1,1.035)" font-size="28.3" text-anchor="middle" font-weight="bold" font-style="italic">WNT2B</text>
<line x1="299.6" y1="556.8" x2="299.6" y2="612.6" stroke="#000" stroke-width="2.8" stroke-linecap="butt"/>
<line x1="299.6" y1="634.7" x2="299.6" y2="848.6" stroke="#000" stroke-width="2.8" stroke-linecap="butt"/>
<line x1="284.3" y1="558.2" x2="299.6" y2="558.2" stroke="#000" stroke-width="2.8" stroke-linecap="butt"/>
<text transform="translate(282.2,565.3) scale(1,1.035)" font-size="21.8" text-anchor="end" font-weight="bold" font-style="normal">25</text>
<line x1="291.2" y1="611.2" x2="308" y2="611.2" stroke="#000" stroke-width="2.8" stroke-linecap="butt"/>
<text transform="translate(282.2,619.5) scale(1,1.035)" font-size="21.8" text-anchor="end" font-weight="bold" font-style="normal">20</text>
<line x1="291.2" y1="636.1" x2="308" y2="636.1" stroke="#000" stroke-width="2.8" stroke-linecap="butt"/>
<text transform="translate(285.2,643.2) scale(1,1.035)" font-size="21.8" text-anchor="end" font-weight="bold" font-style="normal">10</text>
<line x1="287.2" y1="741.4" x2="299.6" y2="741.4" stroke="#000" stroke-width="2.8" stroke-linecap="butt"/>
<text transform="translate(285.2,748.5) scale(1,1.035)" font-size="21.8" text-anchor="end" font-weight="bold" font-style="normal">5</text>
<line x1="287.2" y1="847.2" x2="299.6" y2="847.2" stroke="#000" stroke-width="2.8" stroke-linecap="butt"/>
<text transform="translate(285.2,854.3) scale(1,1.035)" font-size="21.8" text-anchor="end" font-weight="bold" font-style="normal">0</text>
<line x1="287.2" y1="847.2" x2="588.3" y2="847.2" stroke="#000" stroke-width="2.8" stroke-linecap="butt"/>
<line x1="343.1" y1="847.2" x2="343.1" y2="859.8" stroke="#000" stroke-width="2.8" stroke-linecap="butt"/>
<line x1="409.8" y1="847.2" x2="409.8" y2="859.8" stroke="#000" stroke-width="2.8" stroke-linecap="butt"/>
<line x1="476.8" y1="847.2" x2="476.8" y2="859.8" stroke="#000" stroke-width="2.8" stroke-linecap="butt"/>
<line x1="543.5" y1="847.2" x2="543.5" y2="859.8" stroke="#000" stroke-width="2.8" stroke-linecap="butt"/>
<text transform="translate(343.1,880.4) scale(1,1.035)" font-size="21.8" text-anchor="middle" font-weight="bold" font-style="normal">hFc</text>
<text transform="translate(409.8,880.4) scale(1,1.035)" font-size="21.8" text-anchor="middle" font-weight="bold" font-style="normal">0.1</text>
<text transform="translate(476.8,880.4) scale(1,1.035)" font-size="21.8" text-anchor="middle" font-weight="bold" font-style="normal">1</text>
<text transform="translate(543.5,880.4) scale(1,1.035)" font-size="21.8" text-anchor="middle" font-weight="bold" font-style="normal">10</text>
<line x1="391.1" y1="893.7" x2="555.2" y2="893.7" stroke="#000" stroke-width="3.9" stroke-linecap="round"/>
<text transform="translate(468.8,922.1) scale(1,1.035)" font-size="23.2" text-anchor="middle" font-weight="bold" font-style="normal">Jagged1 (nM)</text>
<text transform="translate(240.1,700.2) rotate(-90) scale(1,1.035)" font-size="23.3" text-anchor="middle" font-weight="bold">Relative mRNA expression</text>
<line x1="387.9" y1="829.5" x2="431.5" y2="829.5" stroke="#ff2600" stroke-width="2.7" stroke-linecap="butt"/>
<line x1="454.6" y1="816.1" x2="498.7" y2="816.1" stroke="#00c200" stroke-width="2.7" stroke-linecap="butt"/>
<line x1="521.6" y1="739.4" x2="565.4" y2="739.4" stroke="#a30de0" stroke-width="2.7" stroke-linecap="butt"/>
<line x1="327.4" y1="826.5" x2="358.8" y2="826.5" stroke="#0433ff" stroke-width="12.2" stroke-linecap="round"/>
<circle cx="392.9" cy="824.1" r="5.85" fill="#ff2600"/>
<circle cx="401.6" cy="819.8" r="5.85" fill="#ff2600"/>
<circle cx="410.3" cy="819.8" r="5.85" fill="#ff2600"/>
<circle cx="418.5" cy="817.3" r="5.85" fill="#ff2600"/>
<circle cx="426.5" cy="827" r="5.85" fill="#ff2600"/>
<circle cx="392.9" cy="836.5" r="5.85" fill="#ff2600"/>
<circle cx="401.6" cy="832.8" r="5.85" fill="#ff2600"/>
<circle cx="410.3" cy="834.5" r="5.85" fill="#ff2600"/>
<circle cx="418.5" cy="834" r="5.85" fill="#ff2600"/>
<circle cx="426.5" cy="843.5" r="5.85" fill="#ff2600"/>
<circle cx="477" cy="599.3" r="5.85" fill="#00c200"/>
<circle cx="478" cy="762.6" r="5.85" fill="#00c200"/>
<circle cx="460.6" cy="790.5" r="5.85" fill="#00c200"/>
<circle cx="493.7" cy="797.9" r="5.85" fill="#00c200"/>
<circle cx="460.6" cy="803.4" r="5.85" fill="#00c200"/>
<circle cx="460.6" cy="828.3" r="5.85" fill="#00c200"/>
<circle cx="471.3" cy="837" r="5.85" fill="#00c200"/>
<circle cx="493.7" cy="838.5" r="5.85" fill="#00c200"/>
<circle cx="460.6" cy="842.7" r="5.85" fill="#00c200"/>
<circle cx="482" cy="842.7" r="5.85" fill="#00c200"/>
<circle cx="527.3" cy="673.5" r="5.4" fill="#bc37ec" stroke="#ad1fe6" stroke-width="0.9"/>
<circle cx="560.2" cy="670.2" r="5.4" fill="#bc37ec" stroke="#ad1fe6" stroke-width="0.9"/>
<circle cx="560.2" cy="711.5" r="5.4" fill="#bc37ec" stroke="#ad1fe6" stroke-width="0.9"/>
<circle cx="527.3" cy="718.8" r="5.4" fill="#bc37ec" stroke="#ad1fe6" stroke-width="0.9"/>
<circle cx="527.3" cy="745.6" r="5.4" fill="#bc37ec" stroke="#ad1fe6" stroke-width="0.9"/>
<circle cx="543.7" cy="739.4" r="5.4" fill="#bc37ec" stroke="#ad1fe6" stroke-width="0.9"/>
<circle cx="560.2" cy="740.2" r="5.4" fill="#bc37ec" stroke="#ad1fe6" stroke-width="0.9"/>
<circle cx="543.7" cy="814.1" r="5.4" fill="#bc37ec" stroke="#ad1fe6" stroke-width="0.9"/>
<circle cx="560.2" cy="837" r="5.4" fill="#bc37ec" stroke="#ad1fe6" stroke-width="0.9"/>
<circle cx="527.3" cy="845.2" r="5.4" fill="#bc37ec" stroke="#ad1fe6" stroke-width="0.9"/>
<path d="M341.4 763.1 L341.4 557.7 L534 557.7 L534 612.5" fill="none" stroke="#000" stroke-width="4.6" stroke-linejoin="miter" stroke-linecap="round"/>
<text transform="translate(876.6,515.3) scale(1,1.035)" font-size="28.3" text-anchor="middle" font-weight="bold" font-style="italic">WNT5A</text>
<line x1="730.8" y1="556.8" x2="730.8" y2="612.6" stroke="#000" stroke-width="2.8" stroke-linecap="butt"/>
<line x1="730.8" y1="634.7" x2="730.8" y2="848.6" stroke="#000" stroke-width="2.8" stroke-linecap="butt"/>
<line x1="715.5" y1="558.2" x2="730.8" y2="558.2" stroke="#000" stroke-width="2.8" stroke-linecap="butt"/>
<text transform="translate(713.4,565.3) scale(1,1.035)" font-size="21.8" text-anchor="end" font-weight="bold" font-style="normal">15</text>
<line x1="722.4" y1="611.2" x2="739.2" y2="611.2" stroke="#000" stroke-width="2.8" stroke-linecap="butt"/>
<text transform="translate(713.4,619.5) scale(1,1.035)" font-size="21.8" text-anchor="end" font-weight="bold" font-style="normal">10</text>
<line x1="722.4" y1="636.1" x2="739.2" y2="636.1" stroke="#000" stroke-width="2.8" stroke-linecap="butt"/>
<text transform="translate(716.4,643.2) scale(1,1.035)" font-size="21.8" text-anchor="end" font-weight="bold" font-style="normal">4</text>
<line x1="718.4" y1="741.4" x2="730.8" y2="741.4" stroke="#000" stroke-width="2.8" stroke-linecap="butt"/>
<text transform="translate(716.4,748.5) scale(1,1.035)" font-size="21.8" text-anchor="end" font-weight="bold" font-style="normal">2</text>
<line x1="718.4" y1="847.2" x2="730.8" y2="847.2" stroke="#000" stroke-width="2.8" stroke-linecap="butt"/>
<text transform="translate(716.4,854.3) scale(1,1.035)" font-size="21.8" text-anchor="end" font-weight="bold" font-style="normal">0</text>
<line x1="718.4" y1="847.2" x2="1020" y2="847.2" stroke="#000" stroke-width="2.8" stroke-linecap="butt"/>
<line x1="774.3" y1="847.2" x2="774.3" y2="859.8" stroke="#000" stroke-width="2.8" stroke-linecap="butt"/>
<line x1="841" y1="847.2" x2="841" y2="859.8" stroke="#000" stroke-width="2.8" stroke-linecap="butt"/>
<line x1="908" y1="847.2" x2="908" y2="859.8" stroke="#000" stroke-width="2.8" stroke-linecap="butt"/>
<line x1="974.7" y1="847.2" x2="974.7" y2="859.8" stroke="#000" stroke-width="2.8" stroke-linecap="butt"/>
<text transform="translate(774.3,880.4) scale(1,1.035)" font-size="21.8" text-anchor="middle" font-weight="bold" font-style="normal">hFc</text>
<text transform="translate(841,880.4) scale(1,1.035)" font-size="21.8" text-anchor="middle" font-weight="bold" font-style="normal">0.1</text>
<text transform="translate(908,880.4) scale(1,1.035)" font-size="21.8" text-anchor="middle" font-weight="bold" font-style="normal">1</text>
<text transform="translate(974.7,880.4) scale(1,1.035)" font-size="21.8" text-anchor="middle" font-weight="bold" font-style="normal">10</text>
<line x1="822.3" y1="893.7" x2="986.4" y2="893.7" stroke="#000" stroke-width="3.9" stroke-linecap="round"/>
<text transform="translate(898.8,922.1) scale(1,1.035)" font-size="23.2" text-anchor="middle" font-weight="bold" font-style="normal">Jagged1 (nM)</text>
<text transform="translate(671,700.2) rotate(-90) scale(1,1.035)" font-size="23.3" text-anchor="middle" font-weight="bold">Relative mRNA expression</text>
<line x1="819.1" y1="788.5" x2="862.7" y2="788.5" stroke="#ff2600" stroke-width="2.7" stroke-linecap="butt"/>
<line x1="886.3" y1="784.7" x2="929.9" y2="784.7" stroke="#00c200" stroke-width="2.7" stroke-linecap="butt"/>
<line x1="953" y1="753.6" x2="997.1" y2="753.6" stroke="#a30de0" stroke-width="2.7" stroke-linecap="butt"/>
<line x1="758.6" y1="794.9" x2="790" y2="794.9" stroke="#0433ff" stroke-width="12.2" stroke-linecap="round"/>
<circle cx="824.9" cy="738.2" r="5.85" fill="#ff2600"/>
<circle cx="857.7" cy="736.9" r="5.85" fill="#ff2600"/>
<circle cx="841" cy="756.8" r="5.85" fill="#ff2600"/>
<circle cx="824.9" cy="783" r="5.85" fill="#ff2600"/>
<circle cx="841" cy="783" r="5.85" fill="#ff2600"/>
<circle cx="857.7" cy="793.4" r="5.85" fill="#ff2600"/>
<circle cx="841" cy="799.9" r="5.85" fill="#ff2600"/>
<circle cx="824.9" cy="807.9" r="5.85" fill="#ff2600"/>
<circle cx="857.7" cy="807.4" r="5.85" fill="#ff2600"/>
<circle cx="841.5" cy="846.5" r="5.85" fill="#ff2600"/>
<circle cx="908" cy="581.9" r="5.85" fill="#00c200"/>
<circle cx="924.4" cy="705.8" r="5.85" fill="#00c200"/>
<circle cx="891.3" cy="717" r="5.85" fill="#00c200"/>
<circle cx="908" cy="740.7" r="5.85" fill="#00c200"/>
<circle cx="891.3" cy="785.5" r="5.85" fill="#00c200"/>
<circle cx="924.4" cy="783.7" r="5.85" fill="#00c200"/>
<circle cx="891.3" cy="801.7" r="5.85" fill="#00c200"/>
<circle cx="908" cy="799.9" r="5.85" fill="#00c200"/>
<circle cx="924.4" cy="801.7" r="5.85" fill="#00c200"/>
<circle cx="908" cy="817.3" r="5.85" fill="#00c200"/>
<circle cx="958.5" cy="691.6" r="5.4" fill="#bc37ec" stroke="#ad1fe6" stroke-width="0.9"/>
<circle cx="991.4" cy="688.9" r="5.4" fill="#bc37ec" stroke="#ad1fe6" stroke-width="0.9"/>
<circle cx="991.4" cy="725.7" r="5.4" fill="#bc37ec" stroke="#ad1fe6" stroke-width="0.9"/>
<circle cx="958.5" cy="730.7" r="5.4" fill="#bc37ec" stroke="#ad1fe6" stroke-width="0.9"/>
<circle cx="991.4" cy="747.6" r="5.4" fill="#bc37ec" stroke="#ad1fe6" stroke-width="0.9"/>
<circle cx="958.5" cy="759.3" r="5.4" fill="#bc37ec" stroke="#ad1fe6" stroke-width="0.9"/>
<circle cx="974.7" cy="776" r="5.4" fill="#bc37ec" stroke="#ad1fe6" stroke-width="0.9"/>
<circle cx="958.5" cy="799.9" r="5.4" fill="#bc37ec" stroke="#ad1fe6" stroke-width="0.9"/>
<circle cx="991.4" cy="805.9" r="5.4" fill="#bc37ec" stroke="#ad1fe6" stroke-width="0.9"/>
<circle cx="958.5" cy="812.4" r="5.4" fill="#bc37ec" stroke="#ad1fe6" stroke-width="0.9"/>
<text transform="translate(1295.8,515.3) scale(1,1.035)" font-size="28.3" text-anchor="middle" font-weight="bold" font-style="italic">WNT5B</text>
<line x1="1150.3" y1="556.8" x2="1150.3" y2="612.6" stroke="#000" stroke-width="2.8" stroke-linecap="butt"/>
<line x1="1150.3" y1="634.7" x2="1150.3" y2="848.6" stroke="#000" stroke-width="2.8" stroke-linecap="butt"/>
<line x1="1135" y1="558.2" x2="1150.3" y2="558.2" stroke="#000" stroke-width="2.8" stroke-linecap="butt"/>
<text transform="translate(1132.9,565.3) scale(1,1.035)" font-size="21.8" text-anchor="end" font-weight="bold" font-style="normal">9</text>
<line x1="1141.9" y1="611.2" x2="1158.7" y2="611.2" stroke="#000" stroke-width="2.8" stroke-linecap="butt"/>
<text transform="translate(1132.9,619.5) scale(1,1.035)" font-size="21.8" text-anchor="end" font-weight="bold" font-style="normal">6</text>
<line x1="1141.9" y1="636.1" x2="1158.7" y2="636.1" stroke="#000" stroke-width="2.8" stroke-linecap="butt"/>
<line x1="1137.9" y1="677.9" x2="1150.3" y2="677.9" stroke="#000" stroke-width="2.8" stroke-linecap="butt"/>
<text transform="translate(1135.9,685) scale(1,1.035)" font-size="21.8" text-anchor="end" font-weight="bold" font-style="normal">2</text>
<line x1="1137.9" y1="762.3" x2="1150.3" y2="762.3" stroke="#000" stroke-width="2.8" stroke-linecap="butt"/>
<text transform="translate(1135.9,769.4) scale(1,1.035)" font-size="21.8" text-anchor="end" font-weight="bold" font-style="normal">1</text>
<line x1="1137.9" y1="847.2" x2="1150.3" y2="847.2" stroke="#000" stroke-width="2.8" stroke-linecap="butt"/>
<text transform="translate(1135.9,854.3) scale(1,1.035)" font-size="21.8" text-anchor="end" font-weight="bold" font-style="normal">0</text>
<line x1="1137.9" y1="847.2" x2="1438.3" y2="847.2" stroke="#000" stroke-width="2.8" stroke-linecap="butt"/>
<line x1="1194.3" y1="847.2" x2="1194.3" y2="859.8" stroke="#000" stroke-width="2.8" stroke-linecap="butt"/>
<line x1="1261" y1="847.2" x2="1261" y2="859.8" stroke="#000" stroke-width="2.8" stroke-linecap="butt"/>
<line x1="1327.5" y1="847.2" x2="1327.5" y2="859.8" stroke="#000" stroke-width="2.8" stroke-linecap="butt"/>
<line x1="1394" y1="847.2" x2="1394" y2="859.8" stroke="#000" stroke-width="2.8" stroke-linecap="butt"/>
<text transform="translate(1194.3,880.4) scale(1,1.035)" font-size="21.8" text-anchor="middle" font-weight="bold" font-style="normal">hFc</text>
<text transform="translate(1261,880.4) scale(1,1.035)" font-size="21.8" text-anchor="middle" font-weight="bold" font-style="normal">0.1</text>
<text transform="translate(1327.5,880.4) scale(1,1.035)" font-size="21.8" text-anchor="middle" font-weight="bold" font-style="normal">1</text>
<text transform="translate(1394,880.4) scale(1,1.035)" font-size="21.8" text-anchor="middle" font-weight="bold" font-style="normal">10</text>
<line x1="1241.8" y1="893.7" x2="1405.9" y2="893.7" stroke="#000" stroke-width="3.9" stroke-linecap="round"/>
<text transform="translate(1318.3,922.1) scale(1,1.035)" font-size="23.2" text-anchor="middle" font-weight="bold" font-style="normal">Jagged1 (nM)</text>
<text transform="translate(1102.2,700.2) rotate(-90) scale(1,1.035)" font-size="23.3" text-anchor="middle" font-weight="bold">Relative mRNA expression</text>
<line x1="1238.6" y1="781.7" x2="1282.7" y2="781.7" stroke="#ff2600" stroke-width="2.7" stroke-linecap="butt"/>
<line x1="1305.6" y1="766.3" x2="1349.9" y2="766.3" stroke="#00c200" stroke-width="2.7" stroke-linecap="butt"/>
<line x1="1373" y1="789.7" x2="1416.4" y2="789.7" stroke="#a30de0" stroke-width="2.7" stroke-linecap="butt"/>
<line x1="1178.6" y1="763.1" x2="1210" y2="763.1" stroke="#0433ff" stroke-width="12.2" stroke-linecap="round"/>
<circle cx="1261" cy="739.4" r="5.85" fill="#ff2600"/>
<circle cx="1244.9" cy="747.6" r="5.85" fill="#ff2600"/>
<circle cx="1277.2" cy="741.9" r="5.85" fill="#ff2600"/>
<circle cx="1244.9" cy="773.5" r="5.85" fill="#ff2600"/>
<circle cx="1277.2" cy="771" r="5.85" fill="#ff2600"/>
<circle cx="1277.2" cy="789.2" r="5.85" fill="#ff2600"/>
<circle cx="1244.9" cy="794.9" r="5.85" fill="#ff2600"/>
<circle cx="1244.9" cy="809.1" r="5.85" fill="#ff2600"/>
<circle cx="1277.2" cy="808.6" r="5.85" fill="#ff2600"/>
<circle cx="1261" cy="845.2" r="5.85" fill="#ff2600"/>
<circle cx="1328" cy="565.2" r="5.85" fill="#00c200"/>
<circle cx="1328" cy="674.2" r="5.85" fill="#00c200"/>
<circle cx="1328" cy="732" r="5.85" fill="#00c200"/>
<circle cx="1344.4" cy="746.4" r="5.85" fill="#00c200"/>
<circle cx="1311.3" cy="751.9" r="5.85" fill="#00c200"/>
<circle cx="1328" cy="780.5" r="5.85" fill="#00c200"/>
<circle cx="1344.4" cy="808.4" r="5.85" fill="#00c200"/>
<circle cx="1311.3" cy="817.8" r="5.85" fill="#00c200"/>
<circle cx="1344.4" cy="831" r="5.85" fill="#00c200"/>
<circle cx="1311.3" cy="834" r="5.85" fill="#00c200"/>
<circle cx="1394.7" cy="697.9" r="5.4" fill="#bc37ec" stroke="#ad1fe6" stroke-width="0.9"/>
<circle cx="1394.7" cy="759.8" r="5.4" fill="#bc37ec" stroke="#ad1fe6" stroke-width="0.9"/>
<circle cx="1378.5" cy="778.5" r="5.4" fill="#bc37ec" stroke="#ad1fe6" stroke-width="0.9"/>
<circle cx="1394.7" cy="782.5" r="5.4" fill="#bc37ec" stroke="#ad1fe6" stroke-width="0.9"/>
<circle cx="1378.5" cy="790" r="5.4" fill="#bc37ec" stroke="#ad1fe6" stroke-width="0.9"/>
<circle cx="1411.4" cy="789.2" r="5.4" fill="#bc37ec" stroke="#ad1fe6" stroke-width="0.9"/>
<circle cx="1394.7" cy="804.1" r="5.4" fill="#bc37ec" stroke="#ad1fe6" stroke-width="0.9"/>
<circle cx="1411.4" cy="804.1" r="5.4" fill="#bc37ec" stroke="#ad1fe6" stroke-width="0.9"/>
<circle cx="1378.5" cy="814.8" r="5.4" fill="#bc37ec" stroke="#ad1fe6" stroke-width="0.9"/>
<circle cx="1394.7" cy="833.5" r="5.4" fill="#bc37ec" stroke="#ad1fe6" stroke-width="0.9"/>
<path d="M1196.8 657.8 L1196.8 605 L1392.2 605 L1392.2 657.8" fill="none" stroke="#000" stroke-width="4.6" stroke-linejoin="miter" stroke-linecap="round"/>
<text transform="translate(1719.6,515.3) scale(1,1.035)" font-size="28.3" text-anchor="middle" font-weight="bold" font-style="italic">WNT16</text>
<line x1="1572.6" y1="556.8" x2="1572.6" y2="612.6" stroke="#000" stroke-width="2.8" stroke-linecap="butt"/>
<line x1="1572.6" y1="634.7" x2="1572.6" y2="849.1" stroke="#000" stroke-width="2.8" stroke-linecap="butt"/>
<line x1="1557.3" y1="558.2" x2="1572.6" y2="558.2" stroke="#000" stroke-width="2.8" stroke-linecap="butt"/>
<text transform="translate(1555.2,565.3) scale(1,1.035)" font-size="21.8" text-anchor="end" font-weight="bold" font-style="normal">6</text>
<line x1="1564.2" y1="611.2" x2="1581" y2="611.2" stroke="#000" stroke-width="2.8" stroke-linecap="butt"/>
<text transform="translate(1555.2,619.5) scale(1,1.035)" font-size="21.8" text-anchor="end" font-weight="bold" font-style="normal">4</text>
<line x1="1564.2" y1="636.1" x2="1581" y2="636.1" stroke="#000" stroke-width="2.8" stroke-linecap="butt"/>
<text transform="translate(1558.2,643.2) scale(1,1.035)" font-size="21.8" text-anchor="end" font-weight="bold" font-style="normal">3.0</text>
<line x1="1560.2" y1="741.9" x2="1572.6" y2="741.9" stroke="#000" stroke-width="2.8" stroke-linecap="butt"/>
<text transform="translate(1558.2,749) scale(1,1.035)" font-size="21.8" text-anchor="end" font-weight="bold" font-style="normal">1.5</text>
<line x1="1560.2" y1="847.7" x2="1572.6" y2="847.7" stroke="#000" stroke-width="2.8" stroke-linecap="butt"/>
<text transform="translate(1558.2,854.8) scale(1,1.035)" font-size="21.8" text-anchor="end" font-weight="bold" font-style="normal">0.0</text>
<line x1="1560.2" y1="847.7" x2="1862.7" y2="847.7" stroke="#000" stroke-width="2.8" stroke-linecap="butt"/>
<line x1="1616.8" y1="847.7" x2="1616.8" y2="860.3" stroke="#000" stroke-width="2.8" stroke-linecap="butt"/>
<line x1="1683.5" y1="847.7" x2="1683.5" y2="860.3" stroke="#000" stroke-width="2.8" stroke-linecap="butt"/>
<line x1="1750.5" y1="847.7" x2="1750.5" y2="860.3" stroke="#000" stroke-width="2.8" stroke-linecap="butt"/>
<line x1="1817.7" y1="847.7" x2="1817.7" y2="860.3" stroke="#000" stroke-width="2.8" stroke-linecap="butt"/>
<text transform="translate(1616.8,881.6) scale(1,1.035)" font-size="21.8" text-anchor="middle" font-weight="bold" font-style="normal">hFc</text>
<text transform="translate(1683.5,881.6) scale(1,1.035)" font-size="21.8" text-anchor="middle" font-weight="bold" font-style="normal">0.1</text>
<text transform="translate(1750.5,881.6) scale(1,1.035)" font-size="21.8" text-anchor="middle" font-weight="bold" font-style="normal">1</text>
<text transform="translate(1817.7,881.6) scale(1,1.035)" font-size="21.8" text-anchor="middle" font-weight="bold" font-style="normal">10</text>
<line x1="1664.8" y1="895" x2="1829.4" y2="895" stroke="#000" stroke-width="3.9" stroke-linecap="round"/>
<text transform="translate(1741.3,923.4) scale(1,1.035)" font-size="23.2" text-anchor="middle" font-weight="bold" font-style="normal">Jagged1 (nM)</text>
<text transform="translate(1511,700.2) rotate(-90) scale(1,1.035)" font-size="23.3" text-anchor="middle" font-weight="bold">Relative mRNA expression</text>
<line x1="1661.6" y1="781" x2="1705.9" y2="781" stroke="#ff2600" stroke-width="2.7" stroke-linecap="butt"/>
<line x1="1728.8" y1="720.8" x2="1772.9" y2="720.8" stroke="#00c200" stroke-width="2.7" stroke-linecap="butt"/>
<line x1="1796" y1="817.3" x2="1839.6" y2="817.3" stroke="#a30de0" stroke-width="2.7" stroke-linecap="butt"/>
<line x1="1601.4" y1="778" x2="1632.8" y2="778" stroke="#0433ff" stroke-width="12.2" stroke-linecap="round"/>
<circle cx="1684" cy="713.3" r="5.85" fill="#ff2600"/>
<circle cx="1700.7" cy="743.7" r="5.85" fill="#ff2600"/>
<circle cx="1667.8" cy="748.6" r="5.85" fill="#ff2600"/>
<circle cx="1675.8" cy="778.8" r="5.85" fill="#ff2600"/>
<circle cx="1692.2" cy="778.8" r="5.85" fill="#ff2600"/>
<circle cx="1684" cy="783.7" r="5.85" fill="#ff2600"/>
<circle cx="1667.8" cy="788.5" r="5.85" fill="#ff2600"/>
<circle cx="1700.7" cy="789.2" r="5.85" fill="#ff2600"/>
<circle cx="1684" cy="806.6" r="5.85" fill="#ff2600"/>
<circle cx="1684" cy="846.5" r="5.85" fill="#ff2600"/>
<circle cx="1751.2" cy="576.4" r="5.85" fill="#00c200"/>
<circle cx="1751.2" cy="657.8" r="5.85" fill="#00c200"/>
<circle cx="1751.2" cy="676" r="5.85" fill="#00c200"/>
<circle cx="1767.9" cy="717.5" r="5.85" fill="#00c200"/>
<circle cx="1734.5" cy="725.7" r="5.85" fill="#00c200"/>
<circle cx="1751.2" cy="801.2" r="5.85" fill="#00c200"/>
<circle cx="1767.9" cy="814.1" r="5.85" fill="#00c200"/>
<circle cx="1734.5" cy="817.3" r="5.85" fill="#00c200"/>
<circle cx="1751.2" cy="837.7" r="5.85" fill="#00c200"/>
<circle cx="1818.4" cy="565.2" r="5.4" fill="#bc37ec" stroke="#ad1fe6" stroke-width="0.9"/>
<circle cx="1818.4" cy="772.5" r="5.4" fill="#bc37ec" stroke="#ad1fe6" stroke-width="0.9"/>
<circle cx="1818.4" cy="796.7" r="5.4" fill="#bc37ec" stroke="#ad1fe6" stroke-width="0.9"/>
<circle cx="1818.4" cy="814.1" r="5.4" fill="#bc37ec" stroke="#ad1fe6" stroke-width="0.9"/>
<circle cx="1801.8" cy="818.6" r="5.4" fill="#bc37ec" stroke="#ad1fe6" stroke-width="0.9"/>
<circle cx="1835.1" cy="817.1" r="5.4" fill="#bc37ec" stroke="#ad1fe6" stroke-width="0.9"/>
<circle cx="1812.2" cy="831.5" r="5.4" fill="#bc37ec" stroke="#ad1fe6" stroke-width="0.9"/>
<circle cx="1823.9" cy="832.3" r="5.4" fill="#bc37ec" stroke="#ad1fe6" stroke-width="0.9"/>
<circle cx="1835.1" cy="832.8" r="5.4" fill="#bc37ec" stroke="#ad1fe6" stroke-width="0.9"/>
<circle cx="1801.8" cy="837.7" r="5.4" fill="#bc37ec" stroke="#ad1fe6" stroke-width="0.9"/>
<path d="M1618.1 736.4 L1618.1 615 L1818.4 615 L1818.4 701.6" fill="none" stroke="#000" stroke-width="4.6" stroke-linejoin="miter" stroke-linecap="round"/>
<text transform="translate(238.4,1055.2) scale(1,1.035)" font-size="28.3" text-anchor="middle" font-weight="bold" font-style="italic">HES1</text>
<line x1="96.6" y1="1092" x2="96.6" y2="1146.3" stroke="#000" stroke-width="2.8" stroke-linecap="butt"/>
<line x1="96.6" y1="1168.4" x2="96.6" y2="1377.8" stroke="#000" stroke-width="2.8" stroke-linecap="butt"/>
<line x1="81.3" y1="1093.4" x2="96.6" y2="1093.4" stroke="#000" stroke-width="2.8" stroke-linecap="butt"/>
<text transform="translate(79.2,1100.5) scale(1,1.035)" font-size="21.8" text-anchor="end" font-weight="bold" font-style="normal">200</text>
<line x1="88.2" y1="1144.9" x2="105" y2="1144.9" stroke="#000" stroke-width="2.8" stroke-linecap="butt"/>
<text transform="translate(79.2,1153.2) scale(1,1.035)" font-size="21.8" text-anchor="end" font-weight="bold" font-style="normal">190</text>
<line x1="88.2" y1="1169.8" x2="105" y2="1169.8" stroke="#000" stroke-width="2.8" stroke-linecap="butt"/>
<text transform="translate(82.2,1176.9) scale(1,1.035)" font-size="21.8" text-anchor="end" font-weight="bold" font-style="normal">60</text>
<line x1="84.2" y1="1238.7" x2="96.6" y2="1238.7" stroke="#000" stroke-width="2.8" stroke-linecap="butt"/>
<text transform="translate(82.2,1245.8) scale(1,1.035)" font-size="21.8" text-anchor="end" font-weight="bold" font-style="normal">40</text>
<line x1="84.2" y1="1307.4" x2="96.6" y2="1307.4" stroke="#000" stroke-width="2.8" stroke-linecap="butt"/>
<text transform="translate(82.2,1314.5) scale(1,1.035)" font-size="21.8" text-anchor="end" font-weight="bold" font-style="normal">20</text>
<line x1="84.2" y1="1376.4" x2="96.6" y2="1376.4" stroke="#000" stroke-width="2.8" stroke-linecap="butt"/>
<text transform="translate(82.2,1383.5) scale(1,1.035)" font-size="21.8" text-anchor="end" font-weight="bold" font-style="normal">0</text>
<line x1="84.2" y1="1376.4" x2="379.1" y2="1376.4" stroke="#000" stroke-width="2.8" stroke-linecap="butt"/>
<line x1="139.4" y1="1376.4" x2="139.4" y2="1389" stroke="#000" stroke-width="2.8" stroke-linecap="butt"/>
<line x1="237.7" y1="1376.4" x2="237.7" y2="1389" stroke="#000" stroke-width="2.8" stroke-linecap="butt"/>
<line x1="336" y1="1376.4" x2="336" y2="1389" stroke="#000" stroke-width="2.8" stroke-linecap="butt"/>
<text transform="translate(138.1,1409.5) scale(1,1.035)" font-size="21.8" text-anchor="middle" font-weight="bold" font-style="normal">Day 1</text>
<text transform="translate(237,1409.5) scale(1,1.035)" font-size="21.8" text-anchor="middle" font-weight="bold" font-style="normal">Day 3</text>
<text transform="translate(334.8,1409.5) scale(1,1.035)" font-size="21.8" text-anchor="middle" font-weight="bold" font-style="normal">Day 7</text>
<text transform="translate(26.1,1233.9) rotate(-90) scale(1,1.035)" font-size="22.7" text-anchor="middle" font-weight="bold">Relative mRNA expression</text>
<line x1="145.6" y1="1354.7" x2="169.8" y2="1354.7" stroke="#ff2600" stroke-width="2.7" stroke-linecap="butt"/>
<line x1="243.9" y1="1296.2" x2="268.8" y2="1296.2" stroke="#ff2600" stroke-width="2.7" stroke-linecap="butt"/>
<line x1="114.5" y1="1372.6" x2="127.5" y2="1372.6" stroke="#0433ff" stroke-width="11.4" stroke-linecap="round"/>
<line x1="212.3" y1="1372.6" x2="225.3" y2="1372.6" stroke="#0433ff" stroke-width="11.4" stroke-linecap="round"/>
<line x1="310.6" y1="1372.6" x2="323.6" y2="1372.6" stroke="#0433ff" stroke-width="11.4" stroke-linecap="round"/>
<rect x="152" y="1254.3" width="11.2" height="11.2" fill="#ff2600"/>
<rect x="152" y="1311.5" width="11.2" height="11.2" fill="#ff2600"/>
<rect x="158.7" y="1327.7" width="11.2" height="11.2" fill="#ff2600"/>
<rect x="145.5" y="1331.7" width="11.2" height="11.2" fill="#ff2600"/>
<rect x="145.5" y="1349.1" width="11.2" height="11.2" fill="#ff2600"/>
<rect x="152" y="1354.6" width="11.2" height="11.2" fill="#ff2600"/>
<rect x="145.5" y="1362.1" width="11.2" height="11.2" fill="#ff2600"/>
<rect x="158.7" y="1362.1" width="11.2" height="11.2" fill="#ff2600"/>
<rect x="152" y="1363.3" width="11.2" height="11.2" fill="#ff2600"/>
<rect x="250.8" y="1104.4" width="11.2" height="11.2" fill="#ff2600"/>
<rect x="250.8" y="1181.1" width="11.2" height="11.2" fill="#ff2600"/>
<rect x="250.8" y="1277.9" width="11.2" height="11.2" fill="#ff2600"/>
<rect x="250.8" y="1291.1" width="11.2" height="11.2" fill="#ff2600"/>
<rect x="250.8" y="1306.1" width="11.2" height="11.2" fill="#ff2600"/>
<rect x="244.1" y="1328.5" width="11.2" height="11.2" fill="#ff2600"/>
<rect x="257" y="1326.7" width="11.2" height="11.2" fill="#ff2600"/>
<rect x="250.8" y="1340.9" width="11.2" height="11.2" fill="#ff2600"/>
<rect x="349.1" y="1262.5" width="11.2" height="11.2" fill="#ff2600"/>
<rect x="349.1" y="1303.6" width="11.2" height="11.2" fill="#ff2600"/>
<rect x="349.1" y="1324.7" width="11.2" height="11.2" fill="#ff2600"/>
<rect x="349.1" y="1338.4" width="11.2" height="11.2" fill="#ff2600"/>
<rect x="342.4" y="1355.8" width="11.2" height="11.2" fill="#ff2600"/>
<rect x="349.1" y="1353.3" width="11.2" height="11.2" fill="#ff2600"/>
<rect x="355.3" y="1357.1" width="11.2" height="11.2" fill="#ff2600"/>
<rect x="342.4" y="1359.6" width="11.2" height="11.2" fill="#ff2600"/>
<rect x="355.3" y="1360.8" width="11.2" height="11.2" fill="#ff2600"/>
<path d="M122.7 1309.9 L122.7 1207.6 L155.1 1207.6 L155.1 1231.5" fill="none" stroke="#000" stroke-width="4.6" stroke-linejoin="miter" stroke-linecap="round"/>
<path d="M222.3 1172.3 L222.3 1070.2 L254.4 1070.2 L254.4 1093.9" fill="none" stroke="#000" stroke-width="4.6" stroke-linejoin="miter" stroke-linecap="round"/>
<path d="M321.8 1331.1 L321.8 1228.8 L355.2 1228.8 L355.2 1251.9" fill="none" stroke="#000" stroke-width="4.6" stroke-linejoin="miter" stroke-linecap="round"/>
<text transform="translate(642.1,1055.9) scale(1,1.035)" font-size="28.3" text-anchor="middle" font-weight="bold" font-style="italic">HEY1</text>
<line x1="500.8" y1="1097.4" x2="500.8" y2="1152" stroke="#000" stroke-width="2.8" stroke-linecap="butt"/>
<line x1="500.8" y1="1174.1" x2="500.8" y2="1382" stroke="#000" stroke-width="2.8" stroke-linecap="butt"/>
<line x1="485.5" y1="1098.8" x2="500.8" y2="1098.8" stroke="#000" stroke-width="2.8" stroke-linecap="butt"/>
<text transform="translate(483.4,1105.9) scale(1,1.035)" font-size="21.8" text-anchor="end" font-weight="bold" font-style="normal">700</text>
<line x1="492.4" y1="1150.6" x2="509.2" y2="1150.6" stroke="#000" stroke-width="2.8" stroke-linecap="butt"/>
<text transform="translate(483.4,1158.9) scale(1,1.035)" font-size="21.8" text-anchor="end" font-weight="bold" font-style="normal">600</text>
<line x1="492.4" y1="1175.5" x2="509.2" y2="1175.5" stroke="#000" stroke-width="2.8" stroke-linecap="butt"/>
<text transform="translate(486.4,1182.6) scale(1,1.035)" font-size="21.8" text-anchor="end" font-weight="bold" font-style="normal">200</text>
<line x1="488.4" y1="1226.5" x2="500.8" y2="1226.5" stroke="#000" stroke-width="2.8" stroke-linecap="butt"/>
<text transform="translate(486.4,1233.6) scale(1,1.035)" font-size="21.8" text-anchor="end" font-weight="bold" font-style="normal">150</text>
<line x1="488.4" y1="1277.6" x2="500.8" y2="1277.6" stroke="#000" stroke-width="2.8" stroke-linecap="butt"/>
<text transform="translate(486.4,1284.7) scale(1,1.035)" font-size="21.8" text-anchor="end" font-weight="bold" font-style="normal">100</text>
<line x1="488.4" y1="1329.1" x2="500.8" y2="1329.1" stroke="#000" stroke-width="2.8" stroke-linecap="butt"/>
<text transform="translate(486.4,1336.2) scale(1,1.035)" font-size="21.8" text-anchor="end" font-weight="bold" font-style="normal">50</text>
<line x1="488.4" y1="1380.6" x2="500.8" y2="1380.6" stroke="#000" stroke-width="2.8" stroke-linecap="butt"/>
<text transform="translate(486.4,1387.7) scale(1,1.035)" font-size="21.8" text-anchor="end" font-weight="bold" font-style="normal">0</text>
<line x1="488.4" y1="1380.6" x2="783.3" y2="1380.6" stroke="#000" stroke-width="2.8" stroke-linecap="butt"/>
<line x1="542.6" y1="1380.6" x2="542.6" y2="1393.2" stroke="#000" stroke-width="2.8" stroke-linecap="butt"/>
<line x1="640.7" y1="1380.6" x2="640.7" y2="1393.2" stroke="#000" stroke-width="2.8" stroke-linecap="butt"/>
<line x1="739.8" y1="1380.6" x2="739.8" y2="1393.2" stroke="#000" stroke-width="2.8" stroke-linecap="butt"/>
<text transform="translate(542.4,1414) scale(1,1.035)" font-size="21.8" text-anchor="middle" font-weight="bold" font-style="normal">Day 1</text>
<text transform="translate(640.9,1414) scale(1,1.035)" font-size="21.8" text-anchor="middle" font-weight="bold" font-style="normal">Day 3</text>
<text transform="translate(739,1414) scale(1,1.035)" font-size="21.8" text-anchor="middle" font-weight="bold" font-style="normal">Day 7</text>
<text transform="translate(430.2,1236.4) rotate(-90) scale(1,1.035)" font-size="22.7" text-anchor="middle" font-weight="bold">Relative mRNA expression</text>
<line x1="647.7" y1="1309.2" x2="672.6" y2="1309.2" stroke="#ff2600" stroke-width="2.7" stroke-linecap="butt"/>
<line x1="518.2" y1="1379.6" x2="531.2" y2="1379.6" stroke="#0433ff" stroke-width="11.4" stroke-linecap="round"/>
<line x1="616.5" y1="1379.6" x2="629.5" y2="1379.6" stroke="#0433ff" stroke-width="11.4" stroke-linecap="round"/>
<line x1="714.8" y1="1379.6" x2="727.8" y2="1379.6" stroke="#0433ff" stroke-width="11.4" stroke-linecap="round"/>
<rect x="556.2" y="1299.1" width="11.2" height="11.2" fill="#ff2600"/>
<rect x="556.2" y="1338.9" width="11.2" height="11.2" fill="#ff2600"/>
<rect x="549.5" y="1351.6" width="11.2" height="11.2" fill="#ff2600"/>
<rect x="562.4" y="1350.9" width="11.2" height="11.2" fill="#ff2600"/>
<rect x="552" y="1364.5" width="11.2" height="11.2" fill="#ff2600"/>
<rect x="559.9" y="1364.5" width="11.2" height="11.2" fill="#ff2600"/>
<rect x="549.5" y="1370.8" width="11.2" height="11.2" fill="#ff2600"/>
<rect x="556.2" y="1370.8" width="11.2" height="11.2" fill="#ff2600"/>
<rect x="562.4" y="1370.8" width="11.2" height="11.2" fill="#ff2600"/>
<rect x="654.5" y="1114.9" width="11.2" height="11.2" fill="#ff2600"/>
<rect x="654.5" y="1172.4" width="11.2" height="11.2" fill="#ff2600"/>
<rect x="654.5" y="1183.6" width="11.2" height="11.2" fill="#ff2600"/>
<rect x="654.5" y="1217.2" width="11.2" height="11.2" fill="#ff2600"/>
<rect x="654.5" y="1303.6" width="11.2" height="11.2" fill="#ff2600"/>
<rect x="654.5" y="1316" width="11.2" height="11.2" fill="#ff2600"/>
<rect x="654.5" y="1339.7" width="11.2" height="11.2" fill="#ff2600"/>
<rect x="661.5" y="1342.1" width="11.2" height="11.2" fill="#ff2600"/>
<rect x="647.8" y="1345.9" width="11.2" height="11.2" fill="#ff2600"/>
<rect x="752.8" y="1344.6" width="11.2" height="11.2" fill="#ff2600"/>
<rect x="752.8" y="1360.3" width="11.2" height="11.2" fill="#ff2600"/>
<rect x="746.6" y="1365.3" width="11.2" height="11.2" fill="#ff2600"/>
<rect x="758.3" y="1367" width="11.2" height="11.2" fill="#ff2600"/>
<rect x="752.8" y="1370.8" width="11.2" height="11.2" fill="#ff2600"/>
<rect x="745.6" y="1370.8" width="11.2" height="11.2" fill="#ff2600"/>
<rect x="759.3" y="1370.8" width="11.2" height="11.2" fill="#ff2600"/>
<rect x="752.8" y="1372.5" width="11.2" height="11.2" fill="#ff2600"/>
<path d="M526.9 1341 L526.9 1243.2 L561.3 1243.2 L561.3 1270.6" fill="none" stroke="#000" stroke-width="4.6" stroke-linejoin="miter" stroke-linecap="round"/>
<path d="M624.8 1177.2 L624.8 1078.9 L659.4 1078.9 L659.4 1106.3" fill="none" stroke="#000" stroke-width="4.6" stroke-linejoin="miter" stroke-linecap="round"/>
<path d="M721.8 1350.7 L721.8 1251.9 L756.7 1251.9 L756.7 1280" fill="none" stroke="#000" stroke-width="4.6" stroke-linejoin="miter" stroke-linecap="round"/>
<text transform="translate(1040.9,1055.9) scale(1,1.035)" font-size="28.3" text-anchor="middle" font-weight="bold" font-style="italic">DKK1</text>
<line x1="897.8" y1="1092" x2="897.8" y2="1382.7" stroke="#000" stroke-width="2.8" stroke-linecap="butt"/>
<line x1="885.4" y1="1093.4" x2="897.8" y2="1093.4" stroke="#000" stroke-width="2.8" stroke-linecap="butt"/>
<text transform="translate(883.4,1100.5) scale(1,1.035)" font-size="21.8" text-anchor="end" font-weight="bold" font-style="normal">5</text>
<line x1="885.4" y1="1151.1" x2="897.8" y2="1151.1" stroke="#000" stroke-width="2.8" stroke-linecap="butt"/>
<text transform="translate(883.4,1158.2) scale(1,1.035)" font-size="21.8" text-anchor="end" font-weight="bold" font-style="normal">4</text>
<line x1="885.4" y1="1208.4" x2="897.8" y2="1208.4" stroke="#000" stroke-width="2.8" stroke-linecap="butt"/>
<text transform="translate(883.4,1215.5) scale(1,1.035)" font-size="21.8" text-anchor="end" font-weight="bold" font-style="normal">3</text>
<line x1="885.4" y1="1266.1" x2="897.8" y2="1266.1" stroke="#000" stroke-width="2.8" stroke-linecap="butt"/>
<text transform="translate(883.4,1273.2) scale(1,1.035)" font-size="21.8" text-anchor="end" font-weight="bold" font-style="normal">2</text>
<line x1="885.4" y1="1324.1" x2="897.8" y2="1324.1" stroke="#000" stroke-width="2.8" stroke-linecap="butt"/>
<text transform="translate(883.4,1331.2) scale(1,1.035)" font-size="21.8" text-anchor="end" font-weight="bold" font-style="normal">1</text>
<line x1="885.4" y1="1381.3" x2="897.8" y2="1381.3" stroke="#000" stroke-width="2.8" stroke-linecap="butt"/>
<text transform="translate(883.4,1388.4) scale(1,1.035)" font-size="21.8" text-anchor="end" font-weight="bold" font-style="normal">0</text>
<line x1="885.4" y1="1381.3" x2="1184.6" y2="1381.3" stroke="#000" stroke-width="2.8" stroke-linecap="butt"/>
<line x1="940.1" y1="1381.3" x2="940.1" y2="1393.9" stroke="#000" stroke-width="2.8" stroke-linecap="butt"/>
<line x1="1039.7" y1="1381.3" x2="1039.7" y2="1393.9" stroke="#000" stroke-width="2.8" stroke-linecap="butt"/>
<line x1="1139.8" y1="1381.3" x2="1139.8" y2="1393.9" stroke="#000" stroke-width="2.8" stroke-linecap="butt"/>
<text transform="translate(939.4,1415.2) scale(1,1.035)" font-size="21.8" text-anchor="middle" font-weight="bold" font-style="normal">Day 1</text>
<text transform="translate(1039.7,1415.2) scale(1,1.035)" font-size="21.8" text-anchor="middle" font-weight="bold" font-style="normal">Day 3</text>
<text transform="translate(1139,1415.2) scale(1,1.035)" font-size="21.8" text-anchor="middle" font-weight="bold" font-style="normal">Day 7</text>
<text transform="translate(854.7,1236.4) rotate(-90) scale(1,1.035)" font-size="22.7" text-anchor="middle" font-weight="bold">Relative mRNA expression</text>
<line x1="915.7" y1="1324.1" x2="928.7" y2="1324.1" stroke="#0433ff" stroke-width="11.4" stroke-linecap="round"/>
<line x1="1015" y1="1324.1" x2="1028" y2="1324.1" stroke="#0433ff" stroke-width="11.4" stroke-linecap="round"/>
<line x1="1114.8" y1="1324.1" x2="1127.8" y2="1324.1" stroke="#0433ff" stroke-width="11.4" stroke-linecap="round"/>
<rect x="953.7" y="1362.1" width="11.2" height="11.2" fill="#ff2600"/>
<rect x="947.2" y="1367.5" width="11.2" height="11.2" fill="#ff2600"/>
<rect x="958.7" y="1368.3" width="11.2" height="11.2" fill="#ff2600"/>
<rect x="951.2" y="1372" width="11.2" height="11.2" fill="#ff2600"/>
<rect x="946.7" y="1373.3" width="11.2" height="11.2" fill="#ff2600"/>
<rect x="959.9" y="1373.8" width="11.2" height="11.2" fill="#ff2600"/>
<rect x="953.7" y="1374.5" width="11.2" height="11.2" fill="#ff2600"/>
<rect x="956.2" y="1370.8" width="11.2" height="11.2" fill="#ff2600"/>
<rect x="1053.8" y="1157.9" width="11.2" height="11.2" fill="#ff2600"/>
<rect x="1053.8" y="1320.2" width="11.2" height="11.2" fill="#ff2600"/>
<rect x="1053.8" y="1339.7" width="11.2" height="11.2" fill="#ff2600"/>
<rect x="1047" y="1345.9" width="11.2" height="11.2" fill="#ff2600"/>
<rect x="1060.2" y="1344.1" width="11.2" height="11.2" fill="#ff2600"/>
<rect x="1050.3" y="1361.6" width="11.2" height="11.2" fill="#ff2600"/>
<rect x="1060.2" y="1362.6" width="11.2" height="11.2" fill="#ff2600"/>
<rect x="1047" y="1370.8" width="11.2" height="11.2" fill="#ff2600"/>
<rect x="1154.1" y="1123.6" width="11.2" height="11.2" fill="#ff2600"/>
<rect x="1154.1" y="1190.3" width="11.2" height="11.2" fill="#ff2600"/>
<rect x="1154.1" y="1243.8" width="11.2" height="11.2" fill="#ff2600"/>
<rect x="1154.1" y="1258" width="11.2" height="11.2" fill="#ff2600"/>
<rect x="1160.3" y="1333.9" width="11.2" height="11.2" fill="#ff2600"/>
<rect x="1146.6" y="1338.4" width="11.2" height="11.2" fill="#ff2600"/>
<rect x="1146.6" y="1355.8" width="11.2" height="11.2" fill="#ff2600"/>
<rect x="1160.3" y="1358.3" width="11.2" height="11.2" fill="#ff2600"/>
<rect x="1146.6" y="1369.5" width="11.2" height="11.2" fill="#ff2600"/>
<path d="M920.2 1237.7 L920.2 1222 L966.3 1222 L966.3 1318.4" fill="none" stroke="#000" stroke-width="4.6" stroke-linejoin="miter" stroke-linecap="round"/>
<path d="M1018.5 1237.7 L1018.5 1222 L1059.4 1222 L1059.4 1239.5" fill="none" stroke="#000" stroke-width="4.6" stroke-linejoin="miter" stroke-linecap="round"/>
<text transform="translate(1460.8,1055.9) scale(1,1.035)" font-size="28.3" text-anchor="middle" font-weight="bold" font-style="italic">DKK2</text>
<line x1="1318.7" y1="1096.2" x2="1318.7" y2="1152" stroke="#000" stroke-width="2.8" stroke-linecap="butt"/>
<line x1="1318.7" y1="1173.4" x2="1318.7" y2="1383.2" stroke="#000" stroke-width="2.8" stroke-linecap="butt"/>
<line x1="1303.4" y1="1097.6" x2="1318.7" y2="1097.6" stroke="#000" stroke-width="2.8" stroke-linecap="butt"/>
<text transform="translate(1301.3,1104.7) scale(1,1.035)" font-size="21.8" text-anchor="end" font-weight="bold" font-style="normal">5</text>
<line x1="1310.3" y1="1150.6" x2="1327.1" y2="1150.6" stroke="#000" stroke-width="2.8" stroke-linecap="butt"/>
<text transform="translate(1301.3,1158.9) scale(1,1.035)" font-size="21.8" text-anchor="end" font-weight="bold" font-style="normal">4</text>
<line x1="1310.3" y1="1174.8" x2="1327.1" y2="1174.8" stroke="#000" stroke-width="2.8" stroke-linecap="butt"/>
<text transform="translate(1304.3,1181.9) scale(1,1.035)" font-size="21.8" text-anchor="end" font-weight="bold" font-style="normal">1.5</text>
<line x1="1306.3" y1="1243.7" x2="1318.7" y2="1243.7" stroke="#000" stroke-width="2.8" stroke-linecap="butt"/>
<text transform="translate(1304.3,1250.8) scale(1,1.035)" font-size="21.8" text-anchor="end" font-weight="bold" font-style="normal">1.0</text>
<line x1="1306.3" y1="1312.9" x2="1318.7" y2="1312.9" stroke="#000" stroke-width="2.8" stroke-linecap="butt"/>
<text transform="translate(1304.3,1320) scale(1,1.035)" font-size="21.8" text-anchor="end" font-weight="bold" font-style="normal">0.5</text>
<line x1="1306.3" y1="1381.8" x2="1318.7" y2="1381.8" stroke="#000" stroke-width="2.8" stroke-linecap="butt"/>
<text transform="translate(1304.3,1388.9) scale(1,1.035)" font-size="21.8" text-anchor="end" font-weight="bold" font-style="normal">0.0</text>
<line x1="1306.3" y1="1381.8" x2="1601.5" y2="1381.8" stroke="#000" stroke-width="2.8" stroke-linecap="butt"/>
<line x1="1361" y1="1381.8" x2="1361" y2="1394.4" stroke="#000" stroke-width="2.8" stroke-linecap="butt"/>
<line x1="1458.9" y1="1381.8" x2="1458.9" y2="1394.4" stroke="#000" stroke-width="2.8" stroke-linecap="butt"/>
<line x1="1557.2" y1="1381.8" x2="1557.2" y2="1394.4" stroke="#000" stroke-width="2.8" stroke-linecap="butt"/>
<text transform="translate(1360.5,1415.2) scale(1,1.035)" font-size="21.8" text-anchor="middle" font-weight="bold" font-style="normal">Day 1</text>
<text transform="translate(1458.9,1415.2) scale(1,1.035)" font-size="21.8" text-anchor="middle" font-weight="bold" font-style="normal">Day 3</text>
<text transform="translate(1557.2,1415.2) scale(1,1.035)" font-size="21.8" text-anchor="middle" font-weight="bold" font-style="normal">Day 7</text>
<text transform="translate(1258.5,1237) rotate(-90) scale(1,1.035)" font-size="22.7" text-anchor="middle" font-weight="bold">Relative mRNA expression</text>
<line x1="1465.6" y1="1350.7" x2="1490" y2="1350.7" stroke="#ff2600" stroke-width="2.7" stroke-linecap="butt"/>
<line x1="1564.7" y1="1337.8" x2="1588.3" y2="1337.8" stroke="#ff2600" stroke-width="2.7" stroke-linecap="butt"/>
<line x1="1336.4" y1="1243.9" x2="1349.4" y2="1243.9" stroke="#0433ff" stroke-width="11.4" stroke-linecap="round"/>
<line x1="1434.7" y1="1243.9" x2="1447.7" y2="1243.9" stroke="#0433ff" stroke-width="11.4" stroke-linecap="round"/>
<line x1="1532.5" y1="1243.9" x2="1545.5" y2="1243.9" stroke="#0433ff" stroke-width="11.4" stroke-linecap="round"/>
<rect x="1368.6" y="1364" width="11.2" height="11.2" fill="#ff2600"/>
<rect x="1378.6" y="1366.5" width="11.2" height="11.2" fill="#ff2600"/>
<rect x="1372.4" y="1370.8" width="11.2" height="11.2" fill="#ff2600"/>
<rect x="1381.1" y="1370.3" width="11.2" height="11.2" fill="#ff2600"/>
<rect x="1366.1" y="1366.5" width="11.2" height="11.2" fill="#ff2600"/>
<rect x="1374.9" y="1368.3" width="11.2" height="11.2" fill="#ff2600"/>
<rect x="1465.7" y="1107.7" width="11.2" height="11.2" fill="#ff2600"/>
<rect x="1478.9" y="1107.7" width="11.2" height="11.2" fill="#ff2600"/>
<rect x="1472.4" y="1258" width="11.2" height="11.2" fill="#ff2600"/>
<rect x="1472.4" y="1291.9" width="11.2" height="11.2" fill="#ff2600"/>
<rect x="1472.4" y="1345.1" width="11.2" height="11.2" fill="#ff2600"/>
<rect x="1469.4" y="1364.5" width="11.2" height="11.2" fill="#ff2600"/>
<rect x="1465.7" y="1371.5" width="11.2" height="11.2" fill="#ff2600"/>
<rect x="1478.9" y="1370" width="11.2" height="11.2" fill="#ff2600"/>
<rect x="1472.4" y="1373.3" width="11.2" height="11.2" fill="#ff2600"/>
<rect x="1571" y="1255.8" width="11.2" height="11.2" fill="#ff2600"/>
<rect x="1564.5" y="1324.2" width="11.2" height="11.2" fill="#ff2600"/>
<rect x="1570.3" y="1330.9" width="11.2" height="11.2" fill="#ff2600"/>
<rect x="1577.7" y="1334.2" width="11.2" height="11.2" fill="#ff2600"/>
<rect x="1564.5" y="1337.2" width="11.2" height="11.2" fill="#ff2600"/>
<rect x="1571" y="1338.9" width="11.2" height="11.2" fill="#ff2600"/>
<rect x="1577.7" y="1347.6" width="11.2" height="11.2" fill="#ff2600"/>
<rect x="1572.7" y="1350.9" width="11.2" height="11.2" fill="#ff2600"/>
<rect x="1564.5" y="1357.6" width="11.2" height="11.2" fill="#ff2600"/>
<path d="M1343.9 1176.5 L1343.9 1160.3 L1386.7 1160.3 L1386.7 1266.1" fill="none" stroke="#000" stroke-width="4.6" stroke-linejoin="miter" stroke-linecap="round"/>
<path d="M1439.5 1176.5 L1439.5 1160.3 L1478.8 1160.3 L1478.8 1193.4" fill="none" stroke="#000" stroke-width="4.6" stroke-linejoin="miter" stroke-linecap="round"/>
<path d="M1538.5 1176.5 L1538.5 1160.3 L1577.8 1160.3 L1577.8 1193.4" fill="none" stroke="#000" stroke-width="4.6" stroke-linejoin="miter" stroke-linecap="round"/>
<text transform="translate(1862.1,1054.7) scale(1,1.035)" font-size="28.3" text-anchor="middle" font-weight="bold" font-style="italic">SOST</text>
<line x1="1720.7" y1="1094.9" x2="1720.7" y2="1148.8" stroke="#000" stroke-width="2.8" stroke-linecap="butt"/>
<line x1="1720.7" y1="1170.4" x2="1720.7" y2="1378.3" stroke="#000" stroke-width="2.8" stroke-linecap="butt"/>
<line x1="1705.4" y1="1096.3" x2="1720.7" y2="1096.3" stroke="#000" stroke-width="2.8" stroke-linecap="butt"/>
<text transform="translate(1703.3,1103.4) scale(1,1.035)" font-size="21.8" text-anchor="end" font-weight="bold" font-style="normal">5</text>
<line x1="1712.3" y1="1147.4" x2="1729.1" y2="1147.4" stroke="#000" stroke-width="2.8" stroke-linecap="butt"/>
<text transform="translate(1703.3,1155.7) scale(1,1.035)" font-size="21.8" text-anchor="end" font-weight="bold" font-style="normal">4</text>
<line x1="1712.3" y1="1171.8" x2="1729.1" y2="1171.8" stroke="#000" stroke-width="2.8" stroke-linecap="butt"/>
<text transform="translate(1706.3,1178.9) scale(1,1.035)" font-size="21.8" text-anchor="end" font-weight="bold" font-style="normal">1.5</text>
<line x1="1708.3" y1="1240.2" x2="1720.7" y2="1240.2" stroke="#000" stroke-width="2.8" stroke-linecap="butt"/>
<text transform="translate(1706.3,1247.3) scale(1,1.035)" font-size="21.8" text-anchor="end" font-weight="bold" font-style="normal">1.0</text>
<line x1="1708.3" y1="1308.7" x2="1720.7" y2="1308.7" stroke="#000" stroke-width="2.8" stroke-linecap="butt"/>
<text transform="translate(1706.3,1315.8) scale(1,1.035)" font-size="21.8" text-anchor="end" font-weight="bold" font-style="normal">0.5</text>
<line x1="1708.3" y1="1376.9" x2="1720.7" y2="1376.9" stroke="#000" stroke-width="2.8" stroke-linecap="butt"/>
<text transform="translate(1706.3,1384) scale(1,1.035)" font-size="21.8" text-anchor="end" font-weight="bold" font-style="normal">0.0</text>
<line x1="1708.3" y1="1376.9" x2="2000.2" y2="1376.9" stroke="#000" stroke-width="2.8" stroke-linecap="butt"/>
<line x1="1762.5" y1="1376.9" x2="1762.5" y2="1389.5" stroke="#000" stroke-width="2.8" stroke-linecap="butt"/>
<line x1="1859.4" y1="1376.9" x2="1859.4" y2="1389.5" stroke="#000" stroke-width="2.8" stroke-linecap="butt"/>
<line x1="1956.4" y1="1376.9" x2="1956.4" y2="1389.5" stroke="#000" stroke-width="2.8" stroke-linecap="butt"/>
<text transform="translate(1761.8,1409.5) scale(1,1.035)" font-size="21.8" text-anchor="middle" font-weight="bold" font-style="normal">Day 1</text>
<text transform="translate(1858.9,1409.5) scale(1,1.035)" font-size="21.8" text-anchor="middle" font-weight="bold" font-style="normal">Day 3</text>
<text transform="translate(1955.9,1409.5) scale(1,1.035)" font-size="21.8" text-anchor="middle" font-weight="bold" font-style="normal">Day 7</text>
<text transform="translate(1661,1233.9) rotate(-90) scale(1,1.035)" font-size="22.7" text-anchor="middle" font-weight="bold">Relative mRNA expression</text>
<line x1="1769.3" y1="1365.2" x2="1792.9" y2="1365.2" stroke="#ff2600" stroke-width="2.7" stroke-linecap="butt"/>
<line x1="1866.3" y1="1310.4" x2="1890" y2="1310.4" stroke="#ff2600" stroke-width="2.7" stroke-linecap="butt"/>
<line x1="1963.4" y1="1316.6" x2="1987.6" y2="1316.6" stroke="#ff2600" stroke-width="2.7" stroke-linecap="butt"/>
<line x1="1738.4" y1="1240.7" x2="1751.4" y2="1240.7" stroke="#0433ff" stroke-width="11.4" stroke-linecap="round"/>
<line x1="1835.2" y1="1240.7" x2="1848.2" y2="1240.7" stroke="#0433ff" stroke-width="11.4" stroke-linecap="round"/>
<line x1="1932.3" y1="1240.7" x2="1945.3" y2="1240.7" stroke="#0433ff" stroke-width="11.4" stroke-linecap="round"/>
<rect x="1775.4" y="1290.4" width="11.2" height="11.2" fill="#ff2600"/>
<rect x="1775.4" y="1328.5" width="11.2" height="11.2" fill="#ff2600"/>
<rect x="1781.6" y="1345.9" width="11.2" height="11.2" fill="#ff2600"/>
<rect x="1768.6" y="1353.3" width="11.2" height="11.2" fill="#ff2600"/>
<rect x="1775.4" y="1350.9" width="11.2" height="11.2" fill="#ff2600"/>
<rect x="1781.6" y="1359.6" width="11.2" height="11.2" fill="#ff2600"/>
<rect x="1768.6" y="1367.8" width="11.2" height="11.2" fill="#ff2600"/>
<rect x="1777.3" y="1366.3" width="11.2" height="11.2" fill="#ff2600"/>
<rect x="1772.4" y="1359.6" width="11.2" height="11.2" fill="#ff2600"/>
<rect x="1872.4" y="1133.6" width="11.2" height="11.2" fill="#ff2600"/>
<rect x="1872.4" y="1179.9" width="11.2" height="11.2" fill="#ff2600"/>
<rect x="1872.4" y="1194" width="11.2" height="11.2" fill="#ff2600"/>
<rect x="1872.4" y="1262.5" width="11.2" height="11.2" fill="#ff2600"/>
<rect x="1872.4" y="1304.8" width="11.2" height="11.2" fill="#ff2600"/>
<rect x="1872.4" y="1347.1" width="11.2" height="11.2" fill="#ff2600"/>
<rect x="1872.4" y="1364.5" width="11.2" height="11.2" fill="#ff2600"/>
<rect x="1878.9" y="1368.3" width="11.2" height="11.2" fill="#ff2600"/>
<rect x="1865.7" y="1371.3" width="11.2" height="11.2" fill="#ff2600"/>
<rect x="1963.5" y="1202" width="11.2" height="11.2" fill="#ff2600"/>
<rect x="1976.5" y="1198.3" width="11.2" height="11.2" fill="#ff2600"/>
<rect x="1976.5" y="1279.4" width="11.2" height="11.2" fill="#ff2600"/>
<rect x="1963.5" y="1290.6" width="11.2" height="11.2" fill="#ff2600"/>
<rect x="1969.8" y="1311" width="11.2" height="11.2" fill="#ff2600"/>
<rect x="1976.5" y="1340.4" width="11.2" height="11.2" fill="#ff2600"/>
<rect x="1963.5" y="1345.9" width="11.2" height="11.2" fill="#ff2600"/>
<rect x="1976.5" y="1359.1" width="11.2" height="11.2" fill="#ff2600"/>
<rect x="1963.5" y="1368.3" width="11.2" height="11.2" fill="#ff2600"/>
<path d="M1750.1 1164 L1750.1 1144.9 L1783.7 1144.9 L1783.7 1237" fill="none" stroke="#000" stroke-width="4.6" stroke-linejoin="miter" stroke-linecap="round"/>
<path d="M1945.5 1177.2 L1945.5 1157.8 L1981.6 1157.8 L1981.6 1190.9" fill="none" stroke="#000" stroke-width="4.6" stroke-linejoin="miter" stroke-linecap="round"/>
<text transform="translate(435.9,1488.4) scale(1,1.035)" font-size="28.3" text-anchor="middle" font-weight="bold" font-style="italic">WNT2B</text>
<line x1="292.5" y1="1529.7" x2="292.5" y2="1584.5" stroke="#000" stroke-width="2.8" stroke-linecap="butt"/>
<line x1="292.5" y1="1606.7" x2="292.5" y2="1815.9" stroke="#000" stroke-width="2.8" stroke-linecap="butt"/>
<line x1="277.2" y1="1531.1" x2="292.5" y2="1531.1" stroke="#000" stroke-width="2.8" stroke-linecap="butt"/>
<text transform="translate(275.1,1538.2) scale(1,1.035)" font-size="21.8" text-anchor="end" font-weight="bold" font-style="normal">40</text>
<line x1="284.1" y1="1583.1" x2="300.9" y2="1583.1" stroke="#000" stroke-width="2.8" stroke-linecap="butt"/>
<text transform="translate(275.1,1591.4) scale(1,1.035)" font-size="21.8" text-anchor="end" font-weight="bold" font-style="normal">30</text>
<line x1="284.1" y1="1608.1" x2="300.9" y2="1608.1" stroke="#000" stroke-width="2.8" stroke-linecap="butt"/>
<text transform="translate(278.1,1615.2) scale(1,1.035)" font-size="21.8" text-anchor="end" font-weight="bold" font-style="normal">15</text>
<line x1="280.1" y1="1677" x2="292.5" y2="1677" stroke="#000" stroke-width="2.8" stroke-linecap="butt"/>
<text transform="translate(278.1,1684.1) scale(1,1.035)" font-size="21.8" text-anchor="end" font-weight="bold" font-style="normal">10</text>
<line x1="280.1" y1="1745.1" x2="292.5" y2="1745.1" stroke="#000" stroke-width="2.8" stroke-linecap="butt"/>
<text transform="translate(278.1,1752.2) scale(1,1.035)" font-size="21.8" text-anchor="end" font-weight="bold" font-style="normal">5</text>
<line x1="280.1" y1="1814.5" x2="292.5" y2="1814.5" stroke="#000" stroke-width="2.8" stroke-linecap="butt"/>
<text transform="translate(278.1,1821.6) scale(1,1.035)" font-size="21.8" text-anchor="end" font-weight="bold" font-style="normal">0</text>
<line x1="280.1" y1="1814.5" x2="575.5" y2="1814.5" stroke="#000" stroke-width="2.8" stroke-linecap="butt"/>
<line x1="335.2" y1="1814.5" x2="335.2" y2="1827.1" stroke="#000" stroke-width="2.8" stroke-linecap="butt"/>
<line x1="433" y1="1814.5" x2="433" y2="1827.1" stroke="#000" stroke-width="2.8" stroke-linecap="butt"/>
<line x1="532.3" y1="1814.5" x2="532.3" y2="1827.1" stroke="#000" stroke-width="2.8" stroke-linecap="butt"/>
<text transform="translate(334.1,1847.7) scale(1,1.035)" font-size="21.8" text-anchor="middle" font-weight="bold" font-style="normal">Day 1</text>
<text transform="translate(433,1847.7) scale(1,1.035)" font-size="21.8" text-anchor="middle" font-weight="bold" font-style="normal">Day 3</text>
<text transform="translate(531.8,1847.7) scale(1,1.035)" font-size="21.8" text-anchor="middle" font-weight="bold" font-style="normal">Day 7</text>
<text transform="translate(234.8,1670.7) rotate(-90) scale(1,1.035)" font-size="22.7" text-anchor="middle" font-weight="bold">Relative mRNA expression</text>
<line x1="341.4" y1="1752" x2="365.9" y2="1752" stroke="#ff2600" stroke-width="2.7" stroke-linecap="butt"/>
<line x1="440.9" y1="1787.2" x2="463.6" y2="1787.2" stroke="#ff2600" stroke-width="2.7" stroke-linecap="butt"/>
<line x1="310.1" y1="1801.3" x2="323.1" y2="1801.3" stroke="#0433ff" stroke-width="11.4" stroke-linecap="round"/>
<line x1="408.5" y1="1801.3" x2="421.5" y2="1801.3" stroke="#0433ff" stroke-width="11.4" stroke-linecap="round"/>
<line x1="507.1" y1="1801.3" x2="520.1" y2="1801.3" stroke="#0433ff" stroke-width="11.4" stroke-linecap="round"/>
<rect x="348.3" y="1618.4" width="11.2" height="11.2" fill="#ff2600"/>
<rect x="348.3" y="1683.4" width="11.2" height="11.2" fill="#ff2600"/>
<rect x="348.3" y="1709.3" width="11.2" height="11.2" fill="#ff2600"/>
<rect x="348.3" y="1722.5" width="11.2" height="11.2" fill="#ff2600"/>
<rect x="348.3" y="1746.4" width="11.2" height="11.2" fill="#ff2600"/>
<rect x="345.5" y="1771.4" width="11.2" height="11.2" fill="#ff2600"/>
<rect x="354.6" y="1775.9" width="11.2" height="11.2" fill="#ff2600"/>
<rect x="341" y="1781.6" width="11.2" height="11.2" fill="#ff2600"/>
<rect x="350.1" y="1778.2" width="11.2" height="11.2" fill="#ff2600"/>
<rect x="446.7" y="1539.5" width="11.2" height="11.2" fill="#ff2600"/>
<rect x="446.7" y="1627.7" width="11.2" height="11.2" fill="#ff2600"/>
<rect x="446.7" y="1737.3" width="11.2" height="11.2" fill="#ff2600"/>
<rect x="440.5" y="1775.9" width="11.2" height="11.2" fill="#ff2600"/>
<rect x="453" y="1775.2" width="11.2" height="11.2" fill="#ff2600"/>
<rect x="440.5" y="1788" width="11.2" height="11.2" fill="#ff2600"/>
<rect x="453" y="1788" width="11.2" height="11.2" fill="#ff2600"/>
<rect x="446.7" y="1805.5" width="11.2" height="11.2" fill="#ff2600"/>
<rect x="538.3" y="1783.4" width="11.2" height="11.2" fill="#ff2600"/>
<rect x="551.2" y="1786.1" width="11.2" height="11.2" fill="#ff2600"/>
<rect x="544.4" y="1794.8" width="11.2" height="11.2" fill="#ff2600"/>
<rect x="538.3" y="1800.9" width="11.2" height="11.2" fill="#ff2600"/>
<rect x="551.2" y="1800.9" width="11.2" height="11.2" fill="#ff2600"/>
<rect x="544.4" y="1804.3" width="11.2" height="11.2" fill="#ff2600"/>
<rect x="547.8" y="1806.6" width="11.2" height="11.2" fill="#ff2600"/>
<path d="M319.8 1708.8 L319.8 1539.5 L356.1 1539.5 L356.1 1589.9" fill="none" stroke="#000" stroke-width="4.6" stroke-linejoin="miter" stroke-linecap="round"/>
<path d="M411.8 1673.6 L411.8 1505.4 L451.1 1505.4 L451.1 1525.1" fill="none" stroke="#000" stroke-width="4.6" stroke-linejoin="miter" stroke-linecap="round"/>
<text transform="translate(826.8,1488.4) scale(1,1.035)" font-size="28.3" text-anchor="middle" font-weight="bold" font-style="italic">WNT5A</text>
<line x1="684.1" y1="1523.3" x2="684.1" y2="1810.2" stroke="#000" stroke-width="2.8" stroke-linecap="butt"/>
<line x1="671.7" y1="1524.7" x2="684.1" y2="1524.7" stroke="#000" stroke-width="2.8" stroke-linecap="butt"/>
<text transform="translate(669.7,1531.8) scale(1,1.035)" font-size="21.8" text-anchor="end" font-weight="bold" font-style="normal">15</text>
<line x1="671.7" y1="1620.1" x2="684.1" y2="1620.1" stroke="#000" stroke-width="2.8" stroke-linecap="butt"/>
<text transform="translate(669.7,1627.2) scale(1,1.035)" font-size="21.8" text-anchor="end" font-weight="bold" font-style="normal">10</text>
<line x1="671.7" y1="1714.5" x2="684.1" y2="1714.5" stroke="#000" stroke-width="2.8" stroke-linecap="butt"/>
<text transform="translate(669.7,1721.6) scale(1,1.035)" font-size="21.8" text-anchor="end" font-weight="bold" font-style="normal">5</text>
<line x1="671.7" y1="1808.8" x2="684.1" y2="1808.8" stroke="#000" stroke-width="2.8" stroke-linecap="butt"/>
<text transform="translate(669.7,1815.9) scale(1,1.035)" font-size="21.8" text-anchor="end" font-weight="bold" font-style="normal">0</text>
<line x1="671.7" y1="1808.8" x2="967" y2="1808.8" stroke="#000" stroke-width="2.8" stroke-linecap="butt"/>
<line x1="726.1" y1="1808.8" x2="726.1" y2="1821.4" stroke="#000" stroke-width="2.8" stroke-linecap="butt"/>
<line x1="825" y1="1808.8" x2="825" y2="1821.4" stroke="#000" stroke-width="2.8" stroke-linecap="butt"/>
<line x1="923.4" y1="1808.8" x2="923.4" y2="1821.4" stroke="#000" stroke-width="2.8" stroke-linecap="butt"/>
<text transform="translate(725.7,1842) scale(1,1.035)" font-size="21.8" text-anchor="middle" font-weight="bold" font-style="normal">Day 1</text>
<text transform="translate(824.5,1842) scale(1,1.035)" font-size="21.8" text-anchor="middle" font-weight="bold" font-style="normal">Day 3</text>
<text transform="translate(923.4,1842) scale(1,1.035)" font-size="21.8" text-anchor="middle" font-weight="bold" font-style="normal">Day 7</text>
<text transform="translate(629.2,1666.7) rotate(-90) scale(1,1.035)" font-size="22.7" text-anchor="middle" font-weight="bold">Relative mRNA expression</text>
<line x1="831.8" y1="1738.3" x2="855.7" y2="1738.3" stroke="#ff2600" stroke-width="2.7" stroke-linecap="butt"/>
<line x1="701.7" y1="1790.6" x2="714.7" y2="1790.6" stroke="#0433ff" stroke-width="11.4" stroke-linecap="round"/>
<line x1="800.1" y1="1790.6" x2="813.1" y2="1790.6" stroke="#0433ff" stroke-width="11.4" stroke-linecap="round"/>
<line x1="898.5" y1="1790.6" x2="911.5" y2="1790.6" stroke="#0433ff" stroke-width="11.4" stroke-linecap="round"/>
<rect x="733" y="1770.7" width="11.2" height="11.2" fill="#ff2600"/>
<rect x="746" y="1768" width="11.2" height="11.2" fill="#ff2600"/>
<rect x="739.9" y="1781.6" width="11.2" height="11.2" fill="#ff2600"/>
<rect x="733" y="1786.1" width="11.2" height="11.2" fill="#ff2600"/>
<rect x="746" y="1788.4" width="11.2" height="11.2" fill="#ff2600"/>
<rect x="736.4" y="1793" width="11.2" height="11.2" fill="#ff2600"/>
<rect x="743.3" y="1795.2" width="11.2" height="11.2" fill="#ff2600"/>
<rect x="733" y="1794.1" width="11.2" height="11.2" fill="#ff2600"/>
<rect x="739.9" y="1789.5" width="11.2" height="11.2" fill="#ff2600"/>
<rect x="838" y="1595.7" width="11.2" height="11.2" fill="#ff2600"/>
<rect x="838" y="1636.1" width="11.2" height="11.2" fill="#ff2600"/>
<rect x="838" y="1700.5" width="11.2" height="11.2" fill="#ff2600"/>
<rect x="838" y="1710.7" width="11.2" height="11.2" fill="#ff2600"/>
<rect x="838" y="1732.7" width="11.2" height="11.2" fill="#ff2600"/>
<rect x="831.4" y="1764.5" width="11.2" height="11.2" fill="#ff2600"/>
<rect x="844.4" y="1770.2" width="11.2" height="11.2" fill="#ff2600"/>
<rect x="831.4" y="1775.9" width="11.2" height="11.2" fill="#ff2600"/>
<rect x="838" y="1798.6" width="11.2" height="11.2" fill="#ff2600"/>
<rect x="936.4" y="1725.9" width="11.2" height="11.2" fill="#ff2600"/>
<rect x="942.8" y="1757" width="11.2" height="11.2" fill="#ff2600"/>
<rect x="930.1" y="1762.3" width="11.2" height="11.2" fill="#ff2600"/>
<rect x="936.4" y="1770.2" width="11.2" height="11.2" fill="#ff2600"/>
<rect x="942.8" y="1779.3" width="11.2" height="11.2" fill="#ff2600"/>
<rect x="930.1" y="1775.9" width="11.2" height="11.2" fill="#ff2600"/>
<rect x="936.4" y="1782.7" width="11.2" height="11.2" fill="#ff2600"/>
<rect x="930.1" y="1790.7" width="11.2" height="11.2" fill="#ff2600"/>
<rect x="939.9" y="1773.6" width="11.2" height="11.2" fill="#ff2600"/>
<path d="M805.2 1706.5 L805.2 1550.1 L846.1 1550.1 L846.1 1581.5" fill="none" stroke="#000" stroke-width="4.6" stroke-linejoin="miter" stroke-linecap="round"/>
<path d="M906.1 1768.6 L906.1 1661.1 L940.2 1661.1 L940.2 1691.7" fill="none" stroke="#000" stroke-width="4.6" stroke-linejoin="miter" stroke-linecap="round"/>
<text transform="translate(1233.7,1488.4) scale(1,1.035)" font-size="28.3" text-anchor="middle" font-weight="bold" font-style="italic">WNT5B</text>
<line x1="1090.9" y1="1525.1" x2="1090.9" y2="1579.5" stroke="#000" stroke-width="2.8" stroke-linecap="butt"/>
<line x1="1090.9" y1="1601.7" x2="1090.9" y2="1810.6" stroke="#000" stroke-width="2.8" stroke-linecap="butt"/>
<line x1="1075.6" y1="1526.5" x2="1090.9" y2="1526.5" stroke="#000" stroke-width="2.8" stroke-linecap="butt"/>
<text transform="translate(1073.5,1533.6) scale(1,1.035)" font-size="21.8" text-anchor="end" font-weight="bold" font-style="normal">16</text>
<line x1="1078.5" y1="1560.4" x2="1090.9" y2="1560.4" stroke="#000" stroke-width="2.8" stroke-linecap="butt"/>
<text transform="translate(1073.5,1567.5) scale(1,1.035)" font-size="21.8" text-anchor="end" font-weight="bold" font-style="normal">8</text>
<line x1="1082.5" y1="1578.1" x2="1099.3" y2="1578.1" stroke="#000" stroke-width="2.8" stroke-linecap="butt"/>
<line x1="1082.5" y1="1603.1" x2="1099.3" y2="1603.1" stroke="#000" stroke-width="2.8" stroke-linecap="butt"/>
<text transform="translate(1076.5,1610.2) scale(1,1.035)" font-size="21.8" text-anchor="end" font-weight="bold" font-style="normal">2.5</text>
<line x1="1078.5" y1="1644" x2="1090.9" y2="1644" stroke="#000" stroke-width="2.8" stroke-linecap="butt"/>
<text transform="translate(1076.5,1651.1) scale(1,1.035)" font-size="21.8" text-anchor="end" font-weight="bold" font-style="normal">2.0</text>
<line x1="1078.5" y1="1685.6" x2="1090.9" y2="1685.6" stroke="#000" stroke-width="2.8" stroke-linecap="butt"/>
<text transform="translate(1076.5,1692.7) scale(1,1.035)" font-size="21.8" text-anchor="end" font-weight="bold" font-style="normal">1.5</text>
<line x1="1078.5" y1="1727" x2="1090.9" y2="1727" stroke="#000" stroke-width="2.8" stroke-linecap="butt"/>
<text transform="translate(1076.5,1734.1) scale(1,1.035)" font-size="21.8" text-anchor="end" font-weight="bold" font-style="normal">1.0</text>
<line x1="1078.5" y1="1768.3" x2="1090.9" y2="1768.3" stroke="#000" stroke-width="2.8" stroke-linecap="butt"/>
<text transform="translate(1076.5,1775.4) scale(1,1.035)" font-size="21.8" text-anchor="end" font-weight="bold" font-style="normal">0.5</text>
<line x1="1078.5" y1="1809.2" x2="1090.9" y2="1809.2" stroke="#000" stroke-width="2.8" stroke-linecap="butt"/>
<text transform="translate(1076.5,1816.3) scale(1,1.035)" font-size="21.8" text-anchor="end" font-weight="bold" font-style="normal">0.0</text>
<line x1="1078.5" y1="1809.2" x2="1373.9" y2="1809.2" stroke="#000" stroke-width="2.8" stroke-linecap="butt"/>
<line x1="1133.4" y1="1809.2" x2="1133.4" y2="1821.8" stroke="#000" stroke-width="2.8" stroke-linecap="butt"/>
<line x1="1231.4" y1="1809.2" x2="1231.4" y2="1821.8" stroke="#000" stroke-width="2.8" stroke-linecap="butt"/>
<line x1="1330.2" y1="1809.2" x2="1330.2" y2="1821.8" stroke="#000" stroke-width="2.8" stroke-linecap="butt"/>
<text transform="translate(1133,1842) scale(1,1.035)" font-size="21.8" text-anchor="middle" font-weight="bold" font-style="normal">Day 1</text>
<text transform="translate(1231.4,1842) scale(1,1.035)" font-size="21.8" text-anchor="middle" font-weight="bold" font-style="normal">Day 3</text>
<text transform="translate(1330.2,1842) scale(1,1.035)" font-size="21.8" text-anchor="middle" font-weight="bold" font-style="normal">Day 7</text>
<text transform="translate(1031.4,1666.7) rotate(-90) scale(1,1.035)" font-size="22.7" text-anchor="middle" font-weight="bold">Relative mRNA expression</text>
<line x1="1109" y1="1727" x2="1122" y2="1727" stroke="#0433ff" stroke-width="11.4" stroke-linecap="round"/>
<line x1="1206.9" y1="1727" x2="1219.9" y2="1727" stroke="#0433ff" stroke-width="11.4" stroke-linecap="round"/>
<line x1="1305.3" y1="1727" x2="1318.3" y2="1727" stroke="#0433ff" stroke-width="11.4" stroke-linecap="round"/>
<rect x="1152.8" y="1685" width="11.2" height="11.2" fill="#ff2600"/>
<rect x="1139.9" y="1694.1" width="11.2" height="11.2" fill="#ff2600"/>
<rect x="1146.2" y="1740" width="11.2" height="11.2" fill="#ff2600"/>
<rect x="1146.2" y="1762.3" width="11.2" height="11.2" fill="#ff2600"/>
<rect x="1139.9" y="1766.1" width="11.2" height="11.2" fill="#ff2600"/>
<rect x="1152.8" y="1765.2" width="11.2" height="11.2" fill="#ff2600"/>
<rect x="1139.9" y="1786.1" width="11.2" height="11.2" fill="#ff2600"/>
<rect x="1152.8" y="1795.2" width="11.2" height="11.2" fill="#ff2600"/>
<rect x="1139.9" y="1799.3" width="11.2" height="11.2" fill="#ff2600"/>
<rect x="1245.1" y="1527" width="11.2" height="11.2" fill="#ff2600"/>
<rect x="1245.1" y="1560" width="11.2" height="11.2" fill="#ff2600"/>
<rect x="1245.1" y="1648.2" width="11.2" height="11.2" fill="#ff2600"/>
<rect x="1245.1" y="1709.3" width="11.2" height="11.2" fill="#ff2600"/>
<rect x="1251.7" y="1730.5" width="11.2" height="11.2" fill="#ff2600"/>
<rect x="1238.7" y="1736.1" width="11.2" height="11.2" fill="#ff2600"/>
<rect x="1245.1" y="1753.9" width="11.2" height="11.2" fill="#ff2600"/>
<rect x="1245.1" y="1770.9" width="11.2" height="11.2" fill="#ff2600"/>
<rect x="1245.1" y="1798.6" width="11.2" height="11.2" fill="#ff2600"/>
<rect x="1343.3" y="1572" width="11.2" height="11.2" fill="#ff2600"/>
<rect x="1343.3" y="1610" width="11.2" height="11.2" fill="#ff2600"/>
<rect x="1343.3" y="1659.3" width="11.2" height="11.2" fill="#ff2600"/>
<rect x="1343.3" y="1686.6" width="11.2" height="11.2" fill="#ff2600"/>
<rect x="1336.9" y="1720.7" width="11.2" height="11.2" fill="#ff2600"/>
<rect x="1349.6" y="1720.2" width="11.2" height="11.2" fill="#ff2600"/>
<rect x="1343.3" y="1739.5" width="11.2" height="11.2" fill="#ff2600"/>
<rect x="1336.9" y="1768" width="11.2" height="11.2" fill="#ff2600"/>
<rect x="1349.6" y="1768" width="11.2" height="11.2" fill="#ff2600"/>
<path d="M1110.2 1663.3 L1110.2 1609.2 L1148.2 1609.2 L1148.2 1633.8" fill="none" stroke="#000" stroke-width="4.6" stroke-linejoin="miter" stroke-linecap="round"/>
<text transform="translate(1643.9,1488.4) scale(1,1.035)" font-size="28.3" text-anchor="middle" font-weight="bold" font-style="italic">WNT16</text>
<line x1="1500.7" y1="1524.4" x2="1500.7" y2="1809" stroke="#000" stroke-width="2.8" stroke-linecap="butt"/>
<line x1="1488.3" y1="1525.8" x2="1500.7" y2="1525.8" stroke="#000" stroke-width="2.8" stroke-linecap="butt"/>
<text transform="translate(1486.3,1532.9) scale(1,1.035)" font-size="21.8" text-anchor="end" font-weight="bold" font-style="normal">2.0</text>
<line x1="1488.3" y1="1596.7" x2="1500.7" y2="1596.7" stroke="#000" stroke-width="2.8" stroke-linecap="butt"/>
<text transform="translate(1486.3,1603.8) scale(1,1.035)" font-size="21.8" text-anchor="end" font-weight="bold" font-style="normal">1.5</text>
<line x1="1488.3" y1="1667.2" x2="1500.7" y2="1667.2" stroke="#000" stroke-width="2.8" stroke-linecap="butt"/>
<text transform="translate(1486.3,1674.3) scale(1,1.035)" font-size="21.8" text-anchor="end" font-weight="bold" font-style="normal">1.0</text>
<line x1="1488.3" y1="1737.6" x2="1500.7" y2="1737.6" stroke="#000" stroke-width="2.8" stroke-linecap="butt"/>
<text transform="translate(1486.3,1744.7) scale(1,1.035)" font-size="21.8" text-anchor="end" font-weight="bold" font-style="normal">0.5</text>
<line x1="1488.3" y1="1807.6" x2="1500.7" y2="1807.6" stroke="#000" stroke-width="2.8" stroke-linecap="butt"/>
<text transform="translate(1486.3,1814.7) scale(1,1.035)" font-size="21.8" text-anchor="end" font-weight="bold" font-style="normal">0.0</text>
<line x1="1488.3" y1="1807.6" x2="1783.6" y2="1807.6" stroke="#000" stroke-width="2.8" stroke-linecap="butt"/>
<line x1="1542.7" y1="1807.6" x2="1542.7" y2="1820.2" stroke="#000" stroke-width="2.8" stroke-linecap="butt"/>
<line x1="1640.9" y1="1807.6" x2="1640.9" y2="1820.2" stroke="#000" stroke-width="2.8" stroke-linecap="butt"/>
<line x1="1739.3" y1="1807.6" x2="1739.3" y2="1820.2" stroke="#000" stroke-width="2.8" stroke-linecap="butt"/>
<text transform="translate(1542.5,1840.9) scale(1,1.035)" font-size="21.8" text-anchor="middle" font-weight="bold" font-style="normal">Day 1</text>
<text transform="translate(1640.9,1840.9) scale(1,1.035)" font-size="21.8" text-anchor="middle" font-weight="bold" font-style="normal">Day 3</text>
<text transform="translate(1739.3,1840.9) scale(1,1.035)" font-size="21.8" text-anchor="middle" font-weight="bold" font-style="normal">Day 7</text>
<text transform="translate(1440.5,1666.7) rotate(-90) scale(1,1.035)" font-size="22.7" text-anchor="middle" font-weight="bold">Relative mRNA expression</text>
<line x1="1518.5" y1="1667.4" x2="1531.5" y2="1667.4" stroke="#0433ff" stroke-width="11.4" stroke-linecap="round"/>
<line x1="1616.5" y1="1667.4" x2="1629.5" y2="1667.4" stroke="#0433ff" stroke-width="11.4" stroke-linecap="round"/>
<line x1="1714.6" y1="1667.4" x2="1727.6" y2="1667.4" stroke="#0433ff" stroke-width="11.4" stroke-linecap="round"/>
<rect x="1549.6" y="1731.6" width="11.2" height="11.2" fill="#ff2600"/>
<rect x="1563.3" y="1732.7" width="11.2" height="11.2" fill="#ff2600"/>
<rect x="1549.6" y="1743.4" width="11.2" height="11.2" fill="#ff2600"/>
<rect x="1553.5" y="1768" width="11.2" height="11.2" fill="#ff2600"/>
<rect x="1563.3" y="1771.4" width="11.2" height="11.2" fill="#ff2600"/>
<rect x="1549.6" y="1775.9" width="11.2" height="11.2" fill="#ff2600"/>
<rect x="1556.9" y="1773.6" width="11.2" height="11.2" fill="#ff2600"/>
<rect x="1563.3" y="1790.7" width="11.2" height="11.2" fill="#ff2600"/>
<rect x="1549.6" y="1796.4" width="11.2" height="11.2" fill="#ff2600"/>
<rect x="1654.6" y="1592.3" width="11.2" height="11.2" fill="#ff2600"/>
<rect x="1647.8" y="1740" width="11.2" height="11.2" fill="#ff2600"/>
<rect x="1661" y="1739.5" width="11.2" height="11.2" fill="#ff2600"/>
<rect x="1661" y="1753.2" width="11.2" height="11.2" fill="#ff2600"/>
<rect x="1647.8" y="1762.7" width="11.2" height="11.2" fill="#ff2600"/>
<rect x="1661" y="1772.5" width="11.2" height="11.2" fill="#ff2600"/>
<rect x="1647.8" y="1776.6" width="11.2" height="11.2" fill="#ff2600"/>
<rect x="1654.6" y="1800.2" width="11.2" height="11.2" fill="#ff2600"/>
<rect x="1752.8" y="1644.1" width="11.2" height="11.2" fill="#ff2600"/>
<rect x="1752.8" y="1704.3" width="11.2" height="11.2" fill="#ff2600"/>
<rect x="1746.7" y="1719.1" width="11.2" height="11.2" fill="#ff2600"/>
<rect x="1753.5" y="1722.5" width="11.2" height="11.2" fill="#ff2600"/>
<rect x="1759.2" y="1729.3" width="11.2" height="11.2" fill="#ff2600"/>
<rect x="1746" y="1737.3" width="11.2" height="11.2" fill="#ff2600"/>
<rect x="1752.8" y="1750.9" width="11.2" height="11.2" fill="#ff2600"/>
<rect x="1746" y="1757.7" width="11.2" height="11.2" fill="#ff2600"/>
<rect x="1759.2" y="1757.3" width="11.2" height="11.2" fill="#ff2600"/>
<path d="M1527.3 1636.5 L1527.3 1619.5 L1568.2 1619.5 L1568.2 1709.9" fill="none" stroke="#000" stroke-width="4.6" stroke-linejoin="miter" stroke-linecap="round"/>
<path d="M1624.3 1646.3 L1624.3 1552.4 L1660.9 1552.4 L1660.9 1584.9" fill="none" stroke="#000" stroke-width="4.6" stroke-linejoin="miter" stroke-linecap="round"/>
<path d="M1722.7 1620.1 L1722.7 1582 L1755 1582 L1755 1628.1" fill="none" stroke="#000" stroke-width="4.6" stroke-linejoin="miter" stroke-linecap="round"/>
<text transform="translate(17.5,37.3) scale(1,1.035)" font-size="55" text-anchor="start" font-weight="bold" font-style="normal">a</text>
<text transform="translate(15,1026) scale(1,1.035)" font-size="56" text-anchor="start" font-weight="bold" font-style="normal">b</text>
<circle cx="1863.4" cy="1545.1" r="5.7" fill="#0433ff"/>
<rect x="1858" y="1579" width="11" height="11" fill="#ff2600"/>
<text transform="translate(1895.5,1553.2) scale(1,1.035)" font-size="22.3" text-anchor="start" font-weight="normal" font-style="normal" class="r">hFc</text>
<text transform="translate(1895.5,1592.4) scale(1,1.035)" font-size="22.3" text-anchor="start" font-weight="normal" font-style="normal" class="r">Jagged1</text>
</svg></body></html>
